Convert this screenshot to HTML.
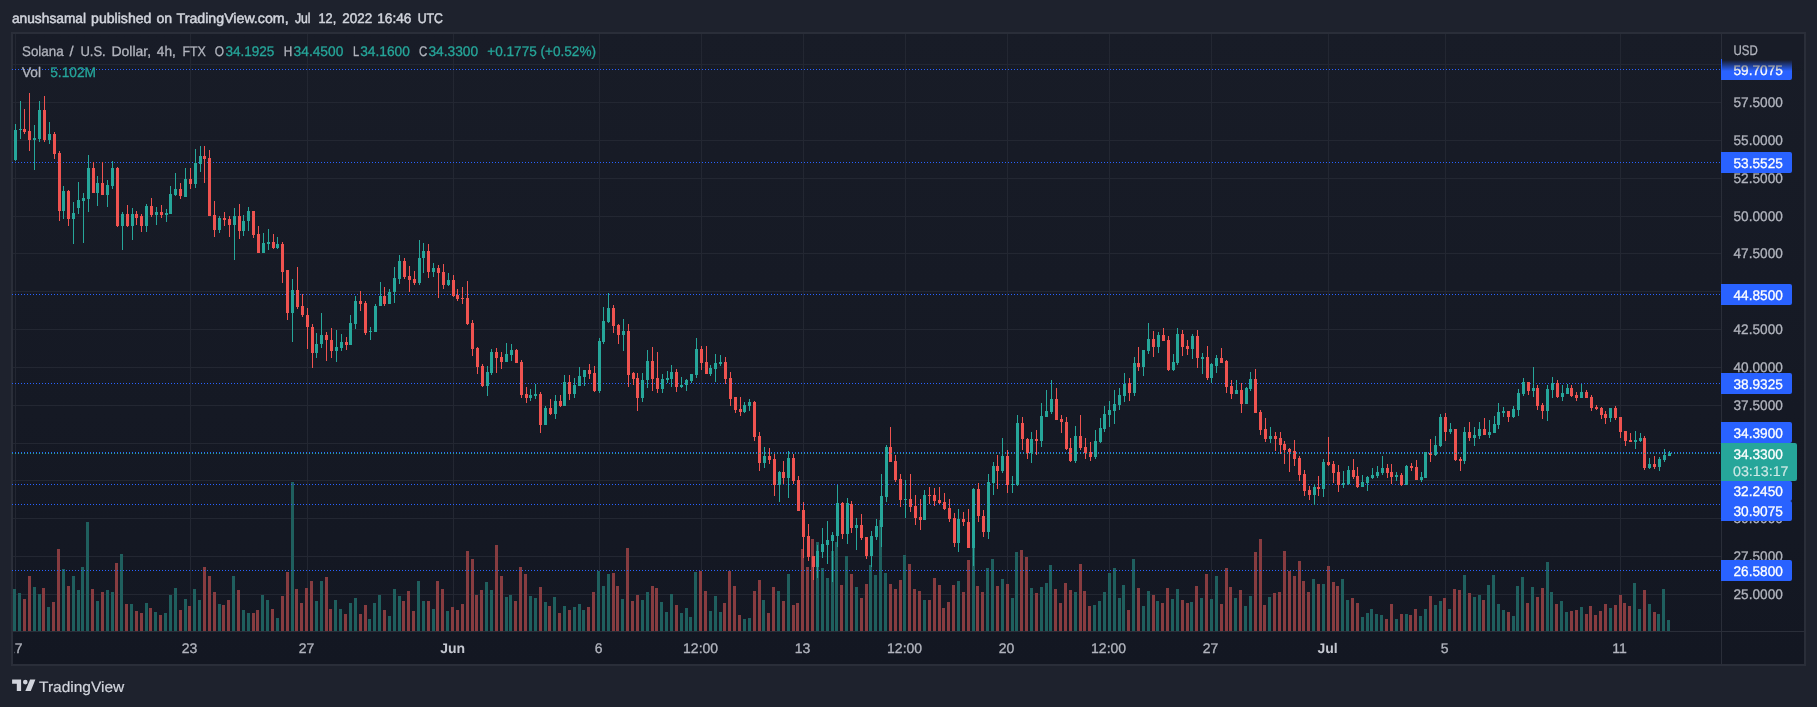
<!DOCTYPE html>
<html><head><meta charset="utf-8"><title>SOLUSD chart</title>
<style>html,body{margin:0;padding:0;background:#1e222d;}body{width:1817px;height:707px;overflow:hidden;font-family:"Liberation Sans",sans-serif;}svg{display:block}</style>
</head><body>
<svg width="1817" height="707" viewBox="0 0 1817 707" font-family="Liberation Sans, sans-serif" shape-rendering="crispEdges">
<defs>
<linearGradient id="bg" x1="0" y1="0" x2="0" y2="1"><stop offset="0" stop-color="#181c27"/><stop offset="1" stop-color="#131722"/></linearGradient>
<linearGradient id="fade" x1="0" y1="0" x2="0" y2="1"><stop offset="0" stop-color="#181c27" stop-opacity="1"/><stop offset="1" stop-color="#181c27" stop-opacity="0"/></linearGradient>
<filter id="gs" x="0" y="0" width="100%" height="100%" filterUnits="userSpaceOnUse"><feOffset dx="0" dy="0"/></filter>
<clipPath id="tclip"><rect x="14.6" y="632" width="1800" height="32"/></clipPath>
</defs>
<rect width="1817" height="707" fill="#1e222d"/>
<rect x="11" y="32" width="1795" height="634" fill="url(#bg)"/>
<path d="M11 32H1806V666H11z M13 34V664H1804V34z" fill="#2a2e39" fill-rule="evenodd"/>
<rect x="13" y="64" width="1708" height="1" fill="#232732"/>
<rect x="13" y="102" width="1708" height="1" fill="#232732"/>
<rect x="13" y="140" width="1708" height="1" fill="#232732"/>
<rect x="13" y="178" width="1708" height="1" fill="#232732"/>
<rect x="13" y="216" width="1708" height="1" fill="#232732"/>
<rect x="13" y="253" width="1708" height="1" fill="#232732"/>
<rect x="13" y="291" width="1708" height="1" fill="#232732"/>
<rect x="13" y="329" width="1708" height="1" fill="#232732"/>
<rect x="13" y="367" width="1708" height="1" fill="#232732"/>
<rect x="13" y="405" width="1708" height="1" fill="#232732"/>
<rect x="13" y="443" width="1708" height="1" fill="#232732"/>
<rect x="13" y="480" width="1708" height="1" fill="#232732"/>
<rect x="13" y="518" width="1708" height="1" fill="#232732"/>
<rect x="13" y="556" width="1708" height="1" fill="#232732"/>
<rect x="13" y="594" width="1708" height="1" fill="#232732"/>
<rect x="15" y="34" width="1" height="597" fill="#232732"/>
<rect x="190" y="34" width="1" height="597" fill="#232732"/>
<rect x="307" y="34" width="1" height="597" fill="#232732"/>
<rect x="453" y="34" width="1" height="597" fill="#232732"/>
<rect x="599" y="34" width="1" height="597" fill="#232732"/>
<rect x="701" y="34" width="1" height="597" fill="#232732"/>
<rect x="803" y="34" width="1" height="597" fill="#232732"/>
<rect x="905" y="34" width="1" height="597" fill="#232732"/>
<rect x="1007" y="34" width="1" height="597" fill="#232732"/>
<rect x="1109" y="34" width="1" height="597" fill="#232732"/>
<rect x="1211" y="34" width="1" height="597" fill="#232732"/>
<rect x="1328" y="34" width="1" height="597" fill="#232732"/>
<rect x="1445" y="34" width="1" height="597" fill="#232732"/>
<rect x="1620" y="34" width="1" height="597" fill="#232732"/>
<rect x="13" y="589" width="3" height="42" fill="#1f5f5e"/>
<rect x="18" y="593" width="3" height="38" fill="#1f5f5e"/>
<rect x="23" y="599" width="3" height="32" fill="#873c40"/>
<rect x="28" y="576" width="3" height="55" fill="#873c40"/>
<rect x="33" y="587" width="3" height="44" fill="#1f5f5e"/>
<rect x="38" y="594" width="3" height="37" fill="#1f5f5e"/>
<rect x="42" y="588" width="3" height="43" fill="#873c40"/>
<rect x="47" y="607" width="3" height="24" fill="#1f5f5e"/>
<rect x="52" y="602" width="3" height="29" fill="#873c40"/>
<rect x="57" y="549" width="3" height="82" fill="#873c40"/>
<rect x="62" y="569" width="3" height="62" fill="#1f5f5e"/>
<rect x="67" y="586" width="3" height="45" fill="#873c40"/>
<rect x="72" y="576" width="3" height="55" fill="#1f5f5e"/>
<rect x="77" y="590" width="3" height="41" fill="#1f5f5e"/>
<rect x="81" y="567" width="3" height="64" fill="#1f5f5e"/>
<rect x="86" y="522" width="3" height="109" fill="#1f5f5e"/>
<rect x="91" y="589" width="3" height="42" fill="#873c40"/>
<rect x="96" y="601" width="3" height="30" fill="#1f5f5e"/>
<rect x="101" y="592" width="3" height="39" fill="#873c40"/>
<rect x="106" y="590" width="3" height="41" fill="#1f5f5e"/>
<rect x="111" y="592" width="3" height="39" fill="#1f5f5e"/>
<rect x="115" y="563" width="3" height="68" fill="#873c40"/>
<rect x="120" y="554" width="3" height="77" fill="#1f5f5e"/>
<rect x="125" y="604" width="3" height="27" fill="#873c40"/>
<rect x="130" y="604" width="3" height="27" fill="#1f5f5e"/>
<rect x="135" y="611" width="3" height="20" fill="#873c40"/>
<rect x="140" y="613" width="3" height="18" fill="#873c40"/>
<rect x="145" y="603" width="3" height="28" fill="#1f5f5e"/>
<rect x="149" y="608" width="3" height="23" fill="#873c40"/>
<rect x="154" y="612" width="3" height="19" fill="#1f5f5e"/>
<rect x="159" y="615" width="3" height="16" fill="#873c40"/>
<rect x="164" y="613" width="3" height="18" fill="#1f5f5e"/>
<rect x="169" y="595" width="3" height="36" fill="#1f5f5e"/>
<rect x="174" y="588" width="3" height="43" fill="#1f5f5e"/>
<rect x="179" y="610" width="3" height="21" fill="#873c40"/>
<rect x="184" y="599" width="3" height="32" fill="#1f5f5e"/>
<rect x="188" y="606" width="3" height="25" fill="#873c40"/>
<rect x="193" y="589" width="3" height="42" fill="#1f5f5e"/>
<rect x="198" y="600" width="3" height="31" fill="#1f5f5e"/>
<rect x="203" y="567" width="3" height="64" fill="#873c40"/>
<rect x="208" y="576" width="3" height="55" fill="#873c40"/>
<rect x="213" y="592" width="3" height="39" fill="#873c40"/>
<rect x="218" y="604" width="3" height="27" fill="#1f5f5e"/>
<rect x="222" y="605" width="3" height="26" fill="#873c40"/>
<rect x="227" y="600" width="3" height="31" fill="#873c40"/>
<rect x="232" y="576" width="3" height="55" fill="#1f5f5e"/>
<rect x="237" y="590" width="3" height="41" fill="#873c40"/>
<rect x="242" y="610" width="3" height="21" fill="#1f5f5e"/>
<rect x="247" y="613" width="3" height="18" fill="#1f5f5e"/>
<rect x="252" y="613" width="3" height="18" fill="#873c40"/>
<rect x="256" y="610" width="3" height="21" fill="#873c40"/>
<rect x="261" y="595" width="3" height="36" fill="#1f5f5e"/>
<rect x="266" y="600" width="3" height="31" fill="#1f5f5e"/>
<rect x="271" y="609" width="3" height="22" fill="#873c40"/>
<rect x="276" y="618" width="3" height="13" fill="#1f5f5e"/>
<rect x="281" y="596" width="3" height="35" fill="#873c40"/>
<rect x="286" y="572" width="3" height="59" fill="#873c40"/>
<rect x="291" y="482" width="3" height="149" fill="#1f5f5e"/>
<rect x="295" y="589" width="3" height="42" fill="#873c40"/>
<rect x="300" y="603" width="3" height="28" fill="#873c40"/>
<rect x="305" y="588" width="3" height="43" fill="#873c40"/>
<rect x="310" y="581" width="3" height="50" fill="#873c40"/>
<rect x="315" y="601" width="3" height="30" fill="#1f5f5e"/>
<rect x="320" y="581" width="3" height="50" fill="#1f5f5e"/>
<rect x="325" y="577" width="3" height="54" fill="#873c40"/>
<rect x="329" y="609" width="3" height="22" fill="#873c40"/>
<rect x="334" y="600" width="3" height="31" fill="#1f5f5e"/>
<rect x="339" y="609" width="3" height="22" fill="#1f5f5e"/>
<rect x="344" y="614" width="3" height="17" fill="#873c40"/>
<rect x="349" y="603" width="3" height="28" fill="#1f5f5e"/>
<rect x="354" y="598" width="3" height="33" fill="#1f5f5e"/>
<rect x="359" y="614" width="3" height="17" fill="#873c40"/>
<rect x="364" y="605" width="3" height="26" fill="#873c40"/>
<rect x="368" y="619" width="3" height="12" fill="#1f5f5e"/>
<rect x="373" y="603" width="3" height="28" fill="#1f5f5e"/>
<rect x="378" y="595" width="3" height="36" fill="#1f5f5e"/>
<rect x="383" y="610" width="3" height="21" fill="#873c40"/>
<rect x="388" y="616" width="3" height="15" fill="#1f5f5e"/>
<rect x="393" y="589" width="3" height="42" fill="#1f5f5e"/>
<rect x="398" y="596" width="3" height="35" fill="#1f5f5e"/>
<rect x="402" y="601" width="3" height="30" fill="#873c40"/>
<rect x="407" y="591" width="3" height="40" fill="#873c40"/>
<rect x="412" y="611" width="3" height="20" fill="#873c40"/>
<rect x="417" y="581" width="3" height="50" fill="#1f5f5e"/>
<rect x="422" y="601" width="3" height="30" fill="#1f5f5e"/>
<rect x="427" y="601" width="3" height="30" fill="#873c40"/>
<rect x="432" y="609" width="3" height="22" fill="#1f5f5e"/>
<rect x="436" y="581" width="3" height="50" fill="#873c40"/>
<rect x="441" y="589" width="3" height="42" fill="#873c40"/>
<rect x="446" y="611" width="3" height="20" fill="#1f5f5e"/>
<rect x="451" y="607" width="3" height="24" fill="#873c40"/>
<rect x="456" y="610" width="3" height="21" fill="#873c40"/>
<rect x="461" y="604" width="3" height="27" fill="#873c40"/>
<rect x="466" y="551" width="3" height="80" fill="#873c40"/>
<rect x="471" y="559" width="3" height="72" fill="#873c40"/>
<rect x="475" y="595" width="3" height="36" fill="#873c40"/>
<rect x="480" y="590" width="3" height="41" fill="#873c40"/>
<rect x="485" y="582" width="3" height="49" fill="#1f5f5e"/>
<rect x="490" y="590" width="3" height="41" fill="#1f5f5e"/>
<rect x="495" y="545" width="3" height="86" fill="#873c40"/>
<rect x="500" y="576" width="3" height="55" fill="#873c40"/>
<rect x="505" y="597" width="3" height="34" fill="#1f5f5e"/>
<rect x="509" y="595" width="3" height="36" fill="#1f5f5e"/>
<rect x="514" y="601" width="3" height="30" fill="#873c40"/>
<rect x="519" y="567" width="3" height="64" fill="#873c40"/>
<rect x="524" y="574" width="3" height="57" fill="#873c40"/>
<rect x="529" y="596" width="3" height="35" fill="#1f5f5e"/>
<rect x="534" y="598" width="3" height="33" fill="#1f5f5e"/>
<rect x="539" y="587" width="3" height="44" fill="#873c40"/>
<rect x="544" y="602" width="3" height="29" fill="#1f5f5e"/>
<rect x="548" y="606" width="3" height="25" fill="#873c40"/>
<rect x="553" y="597" width="3" height="34" fill="#1f5f5e"/>
<rect x="558" y="613" width="3" height="18" fill="#873c40"/>
<rect x="563" y="606" width="3" height="25" fill="#1f5f5e"/>
<rect x="568" y="610" width="3" height="21" fill="#873c40"/>
<rect x="573" y="607" width="3" height="24" fill="#1f5f5e"/>
<rect x="578" y="604" width="3" height="27" fill="#1f5f5e"/>
<rect x="582" y="610" width="3" height="21" fill="#1f5f5e"/>
<rect x="587" y="607" width="3" height="24" fill="#873c40"/>
<rect x="592" y="592" width="3" height="39" fill="#873c40"/>
<rect x="597" y="571" width="3" height="60" fill="#1f5f5e"/>
<rect x="602" y="586" width="3" height="45" fill="#1f5f5e"/>
<rect x="607" y="574" width="3" height="57" fill="#1f5f5e"/>
<rect x="612" y="573" width="3" height="58" fill="#873c40"/>
<rect x="616" y="586" width="3" height="45" fill="#873c40"/>
<rect x="621" y="599" width="3" height="32" fill="#1f5f5e"/>
<rect x="626" y="548" width="3" height="83" fill="#873c40"/>
<rect x="631" y="601" width="3" height="30" fill="#873c40"/>
<rect x="636" y="595" width="3" height="36" fill="#873c40"/>
<rect x="641" y="600" width="3" height="31" fill="#1f5f5e"/>
<rect x="646" y="592" width="3" height="39" fill="#1f5f5e"/>
<rect x="651" y="586" width="3" height="45" fill="#873c40"/>
<rect x="655" y="588" width="3" height="43" fill="#873c40"/>
<rect x="660" y="602" width="3" height="29" fill="#1f5f5e"/>
<rect x="665" y="612" width="3" height="19" fill="#1f5f5e"/>
<rect x="670" y="594" width="3" height="37" fill="#1f5f5e"/>
<rect x="675" y="605" width="3" height="26" fill="#873c40"/>
<rect x="680" y="613" width="3" height="18" fill="#1f5f5e"/>
<rect x="685" y="608" width="3" height="23" fill="#1f5f5e"/>
<rect x="689" y="617" width="3" height="14" fill="#1f5f5e"/>
<rect x="694" y="572" width="3" height="59" fill="#1f5f5e"/>
<rect x="699" y="571" width="3" height="60" fill="#873c40"/>
<rect x="704" y="591" width="3" height="40" fill="#873c40"/>
<rect x="709" y="611" width="3" height="20" fill="#1f5f5e"/>
<rect x="714" y="596" width="3" height="35" fill="#1f5f5e"/>
<rect x="719" y="612" width="3" height="19" fill="#1f5f5e"/>
<rect x="723" y="603" width="3" height="28" fill="#873c40"/>
<rect x="728" y="571" width="3" height="60" fill="#873c40"/>
<rect x="733" y="586" width="3" height="45" fill="#873c40"/>
<rect x="738" y="615" width="3" height="16" fill="#873c40"/>
<rect x="743" y="619" width="3" height="12" fill="#1f5f5e"/>
<rect x="748" y="618" width="3" height="13" fill="#1f5f5e"/>
<rect x="753" y="591" width="3" height="40" fill="#873c40"/>
<rect x="758" y="580" width="3" height="51" fill="#873c40"/>
<rect x="762" y="600" width="3" height="31" fill="#1f5f5e"/>
<rect x="767" y="613" width="3" height="18" fill="#873c40"/>
<rect x="772" y="587" width="3" height="44" fill="#873c40"/>
<rect x="777" y="591" width="3" height="40" fill="#1f5f5e"/>
<rect x="782" y="601" width="3" height="30" fill="#873c40"/>
<rect x="787" y="574" width="3" height="57" fill="#1f5f5e"/>
<rect x="792" y="605" width="3" height="26" fill="#873c40"/>
<rect x="796" y="603" width="3" height="28" fill="#873c40"/>
<rect x="801" y="549" width="3" height="82" fill="#873c40"/>
<rect x="806" y="567" width="3" height="64" fill="#873c40"/>
<rect x="811" y="539" width="3" height="92" fill="#873c40"/>
<rect x="816" y="542" width="3" height="89" fill="#1f5f5e"/>
<rect x="821" y="568" width="3" height="63" fill="#1f5f5e"/>
<rect x="826" y="578" width="3" height="53" fill="#1f5f5e"/>
<rect x="831" y="551" width="3" height="80" fill="#1f5f5e"/>
<rect x="835" y="542" width="3" height="89" fill="#1f5f5e"/>
<rect x="840" y="585" width="3" height="46" fill="#873c40"/>
<rect x="845" y="556" width="3" height="75" fill="#1f5f5e"/>
<rect x="850" y="574" width="3" height="57" fill="#873c40"/>
<rect x="855" y="587" width="3" height="44" fill="#1f5f5e"/>
<rect x="860" y="598" width="3" height="33" fill="#873c40"/>
<rect x="865" y="584" width="3" height="47" fill="#873c40"/>
<rect x="869" y="565" width="3" height="66" fill="#1f5f5e"/>
<rect x="874" y="575" width="3" height="56" fill="#1f5f5e"/>
<rect x="879" y="520" width="3" height="111" fill="#1f5f5e"/>
<rect x="884" y="573" width="3" height="58" fill="#1f5f5e"/>
<rect x="889" y="584" width="3" height="47" fill="#873c40"/>
<rect x="894" y="589" width="3" height="42" fill="#873c40"/>
<rect x="899" y="580" width="3" height="51" fill="#873c40"/>
<rect x="903" y="555" width="3" height="76" fill="#1f5f5e"/>
<rect x="908" y="564" width="3" height="67" fill="#873c40"/>
<rect x="913" y="589" width="3" height="42" fill="#873c40"/>
<rect x="918" y="591" width="3" height="40" fill="#873c40"/>
<rect x="923" y="600" width="3" height="31" fill="#1f5f5e"/>
<rect x="928" y="600" width="3" height="31" fill="#873c40"/>
<rect x="933" y="578" width="3" height="53" fill="#873c40"/>
<rect x="938" y="585" width="3" height="46" fill="#873c40"/>
<rect x="942" y="608" width="3" height="23" fill="#873c40"/>
<rect x="947" y="602" width="3" height="29" fill="#873c40"/>
<rect x="952" y="585" width="3" height="46" fill="#873c40"/>
<rect x="957" y="581" width="3" height="50" fill="#1f5f5e"/>
<rect x="962" y="592" width="3" height="39" fill="#873c40"/>
<rect x="967" y="560" width="3" height="71" fill="#873c40"/>
<rect x="972" y="545" width="3" height="86" fill="#1f5f5e"/>
<rect x="976" y="586" width="3" height="45" fill="#873c40"/>
<rect x="981" y="592" width="3" height="39" fill="#873c40"/>
<rect x="986" y="568" width="3" height="63" fill="#1f5f5e"/>
<rect x="991" y="559" width="3" height="72" fill="#1f5f5e"/>
<rect x="996" y="586" width="3" height="45" fill="#873c40"/>
<rect x="1001" y="579" width="3" height="52" fill="#1f5f5e"/>
<rect x="1006" y="584" width="3" height="47" fill="#873c40"/>
<rect x="1011" y="598" width="3" height="33" fill="#1f5f5e"/>
<rect x="1015" y="552" width="3" height="79" fill="#1f5f5e"/>
<rect x="1020" y="550" width="3" height="81" fill="#873c40"/>
<rect x="1025" y="557" width="3" height="74" fill="#873c40"/>
<rect x="1030" y="588" width="3" height="43" fill="#1f5f5e"/>
<rect x="1035" y="593" width="3" height="38" fill="#873c40"/>
<rect x="1040" y="587" width="3" height="44" fill="#1f5f5e"/>
<rect x="1045" y="583" width="3" height="48" fill="#1f5f5e"/>
<rect x="1049" y="565" width="3" height="66" fill="#1f5f5e"/>
<rect x="1054" y="589" width="3" height="42" fill="#873c40"/>
<rect x="1059" y="603" width="3" height="28" fill="#873c40"/>
<rect x="1064" y="583" width="3" height="48" fill="#873c40"/>
<rect x="1069" y="590" width="3" height="41" fill="#873c40"/>
<rect x="1074" y="592" width="3" height="39" fill="#1f5f5e"/>
<rect x="1079" y="564" width="3" height="67" fill="#873c40"/>
<rect x="1083" y="591" width="3" height="40" fill="#873c40"/>
<rect x="1088" y="606" width="3" height="25" fill="#873c40"/>
<rect x="1093" y="605" width="3" height="26" fill="#1f5f5e"/>
<rect x="1098" y="601" width="3" height="30" fill="#1f5f5e"/>
<rect x="1103" y="592" width="3" height="39" fill="#1f5f5e"/>
<rect x="1108" y="573" width="3" height="58" fill="#1f5f5e"/>
<rect x="1113" y="568" width="3" height="63" fill="#1f5f5e"/>
<rect x="1118" y="598" width="3" height="33" fill="#1f5f5e"/>
<rect x="1122" y="585" width="3" height="46" fill="#1f5f5e"/>
<rect x="1127" y="610" width="3" height="21" fill="#873c40"/>
<rect x="1132" y="559" width="3" height="72" fill="#1f5f5e"/>
<rect x="1137" y="588" width="3" height="43" fill="#873c40"/>
<rect x="1142" y="606" width="3" height="25" fill="#1f5f5e"/>
<rect x="1147" y="591" width="3" height="40" fill="#1f5f5e"/>
<rect x="1152" y="595" width="3" height="36" fill="#873c40"/>
<rect x="1156" y="601" width="3" height="30" fill="#1f5f5e"/>
<rect x="1161" y="603" width="3" height="28" fill="#873c40"/>
<rect x="1166" y="588" width="3" height="43" fill="#873c40"/>
<rect x="1171" y="599" width="3" height="32" fill="#1f5f5e"/>
<rect x="1176" y="589" width="3" height="42" fill="#1f5f5e"/>
<rect x="1181" y="600" width="3" height="31" fill="#873c40"/>
<rect x="1186" y="603" width="3" height="28" fill="#873c40"/>
<rect x="1190" y="602" width="3" height="29" fill="#1f5f5e"/>
<rect x="1195" y="586" width="3" height="45" fill="#873c40"/>
<rect x="1200" y="598" width="3" height="33" fill="#1f5f5e"/>
<rect x="1205" y="574" width="3" height="57" fill="#873c40"/>
<rect x="1210" y="599" width="3" height="32" fill="#1f5f5e"/>
<rect x="1215" y="576" width="3" height="55" fill="#1f5f5e"/>
<rect x="1220" y="604" width="3" height="27" fill="#873c40"/>
<rect x="1225" y="568" width="3" height="63" fill="#873c40"/>
<rect x="1229" y="587" width="3" height="44" fill="#873c40"/>
<rect x="1234" y="598" width="3" height="33" fill="#1f5f5e"/>
<rect x="1239" y="590" width="3" height="41" fill="#873c40"/>
<rect x="1244" y="606" width="3" height="25" fill="#1f5f5e"/>
<rect x="1249" y="596" width="3" height="35" fill="#1f5f5e"/>
<rect x="1254" y="552" width="3" height="79" fill="#873c40"/>
<rect x="1259" y="539" width="3" height="92" fill="#873c40"/>
<rect x="1263" y="605" width="3" height="26" fill="#873c40"/>
<rect x="1268" y="597" width="3" height="34" fill="#1f5f5e"/>
<rect x="1273" y="593" width="3" height="38" fill="#873c40"/>
<rect x="1278" y="592" width="3" height="39" fill="#873c40"/>
<rect x="1283" y="551" width="3" height="80" fill="#873c40"/>
<rect x="1288" y="571" width="3" height="60" fill="#873c40"/>
<rect x="1293" y="576" width="3" height="55" fill="#873c40"/>
<rect x="1298" y="561" width="3" height="70" fill="#873c40"/>
<rect x="1302" y="581" width="3" height="50" fill="#873c40"/>
<rect x="1307" y="592" width="3" height="39" fill="#873c40"/>
<rect x="1312" y="579" width="3" height="52" fill="#1f5f5e"/>
<rect x="1317" y="584" width="3" height="47" fill="#873c40"/>
<rect x="1322" y="584" width="3" height="47" fill="#1f5f5e"/>
<rect x="1327" y="566" width="3" height="65" fill="#873c40"/>
<rect x="1332" y="582" width="3" height="49" fill="#873c40"/>
<rect x="1336" y="586" width="3" height="45" fill="#873c40"/>
<rect x="1341" y="579" width="3" height="52" fill="#1f5f5e"/>
<rect x="1346" y="600" width="3" height="31" fill="#1f5f5e"/>
<rect x="1351" y="598" width="3" height="33" fill="#873c40"/>
<rect x="1356" y="603" width="3" height="28" fill="#873c40"/>
<rect x="1361" y="617" width="3" height="14" fill="#1f5f5e"/>
<rect x="1366" y="613" width="3" height="18" fill="#1f5f5e"/>
<rect x="1370" y="609" width="3" height="22" fill="#1f5f5e"/>
<rect x="1375" y="614" width="3" height="17" fill="#1f5f5e"/>
<rect x="1380" y="615" width="3" height="16" fill="#1f5f5e"/>
<rect x="1385" y="619" width="3" height="12" fill="#873c40"/>
<rect x="1390" y="604" width="3" height="27" fill="#873c40"/>
<rect x="1395" y="619" width="3" height="12" fill="#1f5f5e"/>
<rect x="1400" y="614" width="3" height="17" fill="#873c40"/>
<rect x="1405" y="614" width="3" height="17" fill="#1f5f5e"/>
<rect x="1409" y="615" width="3" height="16" fill="#873c40"/>
<rect x="1414" y="609" width="3" height="22" fill="#873c40"/>
<rect x="1419" y="616" width="3" height="15" fill="#1f5f5e"/>
<rect x="1424" y="609" width="3" height="22" fill="#1f5f5e"/>
<rect x="1429" y="596" width="3" height="35" fill="#873c40"/>
<rect x="1434" y="605" width="3" height="26" fill="#1f5f5e"/>
<rect x="1439" y="601" width="3" height="30" fill="#1f5f5e"/>
<rect x="1443" y="598" width="3" height="33" fill="#873c40"/>
<rect x="1448" y="609" width="3" height="22" fill="#1f5f5e"/>
<rect x="1453" y="589" width="3" height="42" fill="#873c40"/>
<rect x="1458" y="590" width="3" height="41" fill="#873c40"/>
<rect x="1463" y="575" width="3" height="56" fill="#1f5f5e"/>
<rect x="1468" y="593" width="3" height="38" fill="#873c40"/>
<rect x="1473" y="597" width="3" height="34" fill="#1f5f5e"/>
<rect x="1478" y="595" width="3" height="36" fill="#1f5f5e"/>
<rect x="1482" y="600" width="3" height="31" fill="#873c40"/>
<rect x="1487" y="585" width="3" height="46" fill="#1f5f5e"/>
<rect x="1492" y="575" width="3" height="56" fill="#1f5f5e"/>
<rect x="1497" y="604" width="3" height="27" fill="#1f5f5e"/>
<rect x="1502" y="610" width="3" height="21" fill="#1f5f5e"/>
<rect x="1507" y="612" width="3" height="19" fill="#873c40"/>
<rect x="1512" y="616" width="3" height="15" fill="#1f5f5e"/>
<rect x="1516" y="586" width="3" height="45" fill="#1f5f5e"/>
<rect x="1521" y="577" width="3" height="54" fill="#1f5f5e"/>
<rect x="1526" y="603" width="3" height="28" fill="#873c40"/>
<rect x="1531" y="587" width="3" height="44" fill="#1f5f5e"/>
<rect x="1536" y="597" width="3" height="34" fill="#873c40"/>
<rect x="1541" y="588" width="3" height="43" fill="#873c40"/>
<rect x="1546" y="562" width="3" height="69" fill="#1f5f5e"/>
<rect x="1550" y="592" width="3" height="39" fill="#1f5f5e"/>
<rect x="1555" y="604" width="3" height="27" fill="#873c40"/>
<rect x="1560" y="601" width="3" height="30" fill="#1f5f5e"/>
<rect x="1565" y="612" width="3" height="19" fill="#1f5f5e"/>
<rect x="1570" y="611" width="3" height="20" fill="#873c40"/>
<rect x="1575" y="610" width="3" height="21" fill="#873c40"/>
<rect x="1580" y="607" width="3" height="24" fill="#1f5f5e"/>
<rect x="1585" y="614" width="3" height="17" fill="#873c40"/>
<rect x="1589" y="606" width="3" height="25" fill="#873c40"/>
<rect x="1594" y="615" width="3" height="16" fill="#873c40"/>
<rect x="1599" y="611" width="3" height="20" fill="#873c40"/>
<rect x="1604" y="604" width="3" height="27" fill="#873c40"/>
<rect x="1609" y="608" width="3" height="23" fill="#1f5f5e"/>
<rect x="1614" y="605" width="3" height="26" fill="#873c40"/>
<rect x="1619" y="595" width="3" height="36" fill="#873c40"/>
<rect x="1623" y="603" width="3" height="28" fill="#873c40"/>
<rect x="1628" y="606" width="3" height="25" fill="#873c40"/>
<rect x="1633" y="583" width="3" height="48" fill="#1f5f5e"/>
<rect x="1638" y="609" width="3" height="22" fill="#1f5f5e"/>
<rect x="1643" y="590" width="3" height="41" fill="#873c40"/>
<rect x="1648" y="604" width="3" height="27" fill="#1f5f5e"/>
<rect x="1653" y="612" width="3" height="19" fill="#873c40"/>
<rect x="1657" y="614" width="3" height="17" fill="#1f5f5e"/>
<rect x="1662" y="589" width="3" height="42" fill="#1f5f5e"/>
<rect x="1667" y="620" width="3" height="11" fill="#1f5f5e"/>
<line x1="12" y1="69.5" x2="1721" y2="69.5" stroke="#2962ff" stroke-width="1" stroke-dasharray="1 2"/>
<line x1="12" y1="162.5" x2="1721" y2="162.5" stroke="#2962ff" stroke-width="1" stroke-dasharray="1 2"/>
<line x1="12" y1="294.5" x2="1721" y2="294.5" stroke="#2962ff" stroke-width="1" stroke-dasharray="1 2"/>
<line x1="12" y1="383.5" x2="1721" y2="383.5" stroke="#2962ff" stroke-width="1" stroke-dasharray="1 2"/>
<line x1="12" y1="452.5" x2="1721" y2="452.5" stroke="#2962ff" stroke-width="1" stroke-dasharray="1 2"/>
<line x1="12" y1="484.5" x2="1721" y2="484.5" stroke="#2962ff" stroke-width="1" stroke-dasharray="1 2"/>
<line x1="12" y1="504.5" x2="1721" y2="504.5" stroke="#2962ff" stroke-width="1" stroke-dasharray="1 2"/>
<line x1="12" y1="570.5" x2="1721" y2="570.5" stroke="#2962ff" stroke-width="1" stroke-dasharray="1 2"/>
<rect x="15" y="124" width="1" height="37" fill="#26a69a"/>
<rect x="14" y="130" width="3" height="30" fill="#26a69a"/>
<rect x="20" y="101" width="1" height="38" fill="#26a69a"/>
<rect x="19" y="129" width="3" height="1" fill="#26a69a"/>
<rect x="24" y="109" width="1" height="25" fill="#ef5350"/>
<rect x="23" y="129" width="3" height="3" fill="#ef5350"/>
<rect x="29" y="93" width="1" height="58" fill="#ef5350"/>
<rect x="28" y="131" width="3" height="9" fill="#ef5350"/>
<rect x="34" y="125" width="1" height="45" fill="#26a69a"/>
<rect x="33" y="138" width="3" height="2" fill="#26a69a"/>
<rect x="39" y="101" width="1" height="41" fill="#26a69a"/>
<rect x="38" y="110" width="3" height="29" fill="#26a69a"/>
<rect x="44" y="96" width="1" height="46" fill="#ef5350"/>
<rect x="43" y="110" width="3" height="30" fill="#ef5350"/>
<rect x="49" y="122" width="1" height="22" fill="#26a69a"/>
<rect x="48" y="134" width="3" height="6" fill="#26a69a"/>
<rect x="54" y="132" width="1" height="27" fill="#ef5350"/>
<rect x="53" y="134" width="3" height="20" fill="#ef5350"/>
<rect x="59" y="151" width="1" height="70" fill="#ef5350"/>
<rect x="58" y="153" width="3" height="58" fill="#ef5350"/>
<rect x="63" y="186" width="1" height="33" fill="#26a69a"/>
<rect x="62" y="191" width="3" height="20" fill="#26a69a"/>
<rect x="68" y="190" width="1" height="36" fill="#ef5350"/>
<rect x="67" y="191" width="3" height="28" fill="#ef5350"/>
<rect x="73" y="202" width="1" height="42" fill="#26a69a"/>
<rect x="72" y="213" width="3" height="6" fill="#26a69a"/>
<rect x="78" y="182" width="1" height="32" fill="#26a69a"/>
<rect x="77" y="200" width="3" height="8" fill="#26a69a"/>
<rect x="83" y="193" width="1" height="50" fill="#26a69a"/>
<rect x="82" y="198" width="3" height="3" fill="#26a69a"/>
<rect x="88" y="155" width="1" height="57" fill="#26a69a"/>
<rect x="87" y="168" width="3" height="31" fill="#26a69a"/>
<rect x="93" y="162" width="1" height="31" fill="#ef5350"/>
<rect x="92" y="168" width="3" height="25" fill="#ef5350"/>
<rect x="97" y="176" width="1" height="30" fill="#26a69a"/>
<rect x="96" y="183" width="3" height="10" fill="#26a69a"/>
<rect x="102" y="162" width="1" height="33" fill="#ef5350"/>
<rect x="101" y="183" width="3" height="12" fill="#ef5350"/>
<rect x="107" y="180" width="1" height="27" fill="#26a69a"/>
<rect x="106" y="185" width="3" height="10" fill="#26a69a"/>
<rect x="112" y="161" width="1" height="28" fill="#26a69a"/>
<rect x="111" y="168" width="3" height="18" fill="#26a69a"/>
<rect x="117" y="167" width="1" height="60" fill="#ef5350"/>
<rect x="116" y="168" width="3" height="58" fill="#ef5350"/>
<rect x="122" y="212" width="1" height="38" fill="#26a69a"/>
<rect x="121" y="214" width="3" height="12" fill="#26a69a"/>
<rect x="127" y="205" width="1" height="22" fill="#ef5350"/>
<rect x="126" y="214" width="3" height="12" fill="#ef5350"/>
<rect x="132" y="208" width="1" height="32" fill="#26a69a"/>
<rect x="131" y="214" width="3" height="12" fill="#26a69a"/>
<rect x="136" y="211" width="1" height="14" fill="#ef5350"/>
<rect x="135" y="214" width="3" height="4" fill="#ef5350"/>
<rect x="141" y="214" width="1" height="18" fill="#ef5350"/>
<rect x="140" y="216" width="3" height="10" fill="#ef5350"/>
<rect x="146" y="204" width="1" height="28" fill="#26a69a"/>
<rect x="145" y="206" width="3" height="20" fill="#26a69a"/>
<rect x="151" y="198" width="1" height="19" fill="#ef5350"/>
<rect x="150" y="206" width="3" height="9" fill="#ef5350"/>
<rect x="156" y="207" width="1" height="18" fill="#26a69a"/>
<rect x="155" y="212" width="3" height="3" fill="#26a69a"/>
<rect x="161" y="205" width="1" height="13" fill="#ef5350"/>
<rect x="160" y="212" width="3" height="3" fill="#ef5350"/>
<rect x="166" y="209" width="1" height="13" fill="#26a69a"/>
<rect x="165" y="213" width="3" height="2" fill="#26a69a"/>
<rect x="170" y="186" width="1" height="28" fill="#26a69a"/>
<rect x="169" y="194" width="3" height="20" fill="#26a69a"/>
<rect x="175" y="173" width="1" height="23" fill="#26a69a"/>
<rect x="174" y="189" width="3" height="6" fill="#26a69a"/>
<rect x="180" y="183" width="1" height="16" fill="#ef5350"/>
<rect x="179" y="189" width="3" height="7" fill="#ef5350"/>
<rect x="185" y="168" width="1" height="29" fill="#26a69a"/>
<rect x="184" y="179" width="3" height="18" fill="#26a69a"/>
<rect x="190" y="168" width="1" height="21" fill="#ef5350"/>
<rect x="189" y="179" width="3" height="5" fill="#ef5350"/>
<rect x="195" y="149" width="1" height="39" fill="#26a69a"/>
<rect x="194" y="163" width="3" height="21" fill="#26a69a"/>
<rect x="200" y="146" width="1" height="26" fill="#26a69a"/>
<rect x="199" y="156" width="3" height="8" fill="#26a69a"/>
<rect x="204" y="146" width="1" height="37" fill="#ef5350"/>
<rect x="203" y="156" width="3" height="3" fill="#ef5350"/>
<rect x="209" y="150" width="1" height="66" fill="#ef5350"/>
<rect x="208" y="158" width="3" height="58" fill="#ef5350"/>
<rect x="214" y="201" width="1" height="36" fill="#ef5350"/>
<rect x="213" y="215" width="3" height="15" fill="#ef5350"/>
<rect x="219" y="216" width="1" height="17" fill="#26a69a"/>
<rect x="218" y="218" width="3" height="12" fill="#26a69a"/>
<rect x="224" y="212" width="1" height="14" fill="#ef5350"/>
<rect x="223" y="218" width="3" height="2" fill="#ef5350"/>
<rect x="229" y="216" width="1" height="21" fill="#ef5350"/>
<rect x="228" y="219" width="3" height="6" fill="#ef5350"/>
<rect x="234" y="208" width="1" height="52" fill="#26a69a"/>
<rect x="233" y="216" width="3" height="9" fill="#26a69a"/>
<rect x="239" y="204" width="1" height="35" fill="#ef5350"/>
<rect x="238" y="216" width="3" height="15" fill="#ef5350"/>
<rect x="243" y="215" width="1" height="21" fill="#26a69a"/>
<rect x="242" y="221" width="3" height="10" fill="#26a69a"/>
<rect x="248" y="207" width="1" height="24" fill="#26a69a"/>
<rect x="247" y="211" width="3" height="10" fill="#26a69a"/>
<rect x="253" y="211" width="1" height="27" fill="#ef5350"/>
<rect x="252" y="211" width="3" height="24" fill="#ef5350"/>
<rect x="258" y="226" width="1" height="27" fill="#ef5350"/>
<rect x="257" y="234" width="3" height="19" fill="#ef5350"/>
<rect x="263" y="233" width="1" height="20" fill="#26a69a"/>
<rect x="262" y="243" width="3" height="10" fill="#26a69a"/>
<rect x="268" y="229" width="1" height="21" fill="#26a69a"/>
<rect x="267" y="242" width="3" height="2" fill="#26a69a"/>
<rect x="273" y="234" width="1" height="15" fill="#ef5350"/>
<rect x="272" y="242" width="3" height="6" fill="#ef5350"/>
<rect x="277" y="237" width="1" height="12" fill="#26a69a"/>
<rect x="276" y="244" width="3" height="4" fill="#26a69a"/>
<rect x="282" y="242" width="1" height="41" fill="#ef5350"/>
<rect x="281" y="244" width="3" height="28" fill="#ef5350"/>
<rect x="287" y="270" width="1" height="50" fill="#ef5350"/>
<rect x="286" y="270" width="3" height="43" fill="#ef5350"/>
<rect x="292" y="279" width="1" height="63" fill="#26a69a"/>
<rect x="291" y="290" width="3" height="23" fill="#26a69a"/>
<rect x="297" y="267" width="1" height="42" fill="#ef5350"/>
<rect x="296" y="290" width="3" height="17" fill="#ef5350"/>
<rect x="302" y="294" width="1" height="23" fill="#ef5350"/>
<rect x="301" y="306" width="3" height="9" fill="#ef5350"/>
<rect x="307" y="308" width="1" height="41" fill="#ef5350"/>
<rect x="306" y="315" width="3" height="12" fill="#ef5350"/>
<rect x="312" y="324" width="1" height="44" fill="#ef5350"/>
<rect x="311" y="327" width="3" height="26" fill="#ef5350"/>
<rect x="316" y="333" width="1" height="25" fill="#26a69a"/>
<rect x="315" y="344" width="3" height="9" fill="#26a69a"/>
<rect x="321" y="313" width="1" height="35" fill="#26a69a"/>
<rect x="320" y="335" width="3" height="9" fill="#26a69a"/>
<rect x="326" y="332" width="1" height="29" fill="#ef5350"/>
<rect x="325" y="335" width="3" height="5" fill="#ef5350"/>
<rect x="331" y="328" width="1" height="30" fill="#ef5350"/>
<rect x="330" y="340" width="3" height="11" fill="#ef5350"/>
<rect x="336" y="330" width="1" height="32" fill="#26a69a"/>
<rect x="335" y="347" width="3" height="4" fill="#26a69a"/>
<rect x="341" y="334" width="1" height="17" fill="#26a69a"/>
<rect x="340" y="342" width="3" height="6" fill="#26a69a"/>
<rect x="346" y="337" width="1" height="13" fill="#ef5350"/>
<rect x="345" y="342" width="3" height="3" fill="#ef5350"/>
<rect x="350" y="315" width="1" height="30" fill="#26a69a"/>
<rect x="349" y="323" width="3" height="22" fill="#26a69a"/>
<rect x="355" y="296" width="1" height="33" fill="#26a69a"/>
<rect x="354" y="301" width="3" height="23" fill="#26a69a"/>
<rect x="360" y="291" width="1" height="20" fill="#ef5350"/>
<rect x="359" y="301" width="3" height="3" fill="#ef5350"/>
<rect x="365" y="301" width="1" height="34" fill="#ef5350"/>
<rect x="364" y="303" width="3" height="30" fill="#ef5350"/>
<rect x="370" y="327" width="1" height="13" fill="#26a69a"/>
<rect x="369" y="331" width="3" height="1" fill="#26a69a"/>
<rect x="375" y="304" width="1" height="28" fill="#26a69a"/>
<rect x="374" y="306" width="3" height="26" fill="#26a69a"/>
<rect x="380" y="282" width="1" height="24" fill="#26a69a"/>
<rect x="379" y="296" width="3" height="10" fill="#26a69a"/>
<rect x="384" y="287" width="1" height="19" fill="#ef5350"/>
<rect x="383" y="296" width="3" height="8" fill="#ef5350"/>
<rect x="389" y="289" width="1" height="15" fill="#26a69a"/>
<rect x="388" y="292" width="3" height="12" fill="#26a69a"/>
<rect x="394" y="267" width="1" height="36" fill="#26a69a"/>
<rect x="393" y="278" width="3" height="14" fill="#26a69a"/>
<rect x="399" y="255" width="1" height="29" fill="#26a69a"/>
<rect x="398" y="261" width="3" height="18" fill="#26a69a"/>
<rect x="404" y="258" width="1" height="21" fill="#ef5350"/>
<rect x="403" y="261" width="3" height="16" fill="#ef5350"/>
<rect x="409" y="266" width="1" height="26" fill="#ef5350"/>
<rect x="408" y="276" width="3" height="4" fill="#ef5350"/>
<rect x="414" y="271" width="1" height="14" fill="#ef5350"/>
<rect x="413" y="279" width="3" height="4" fill="#ef5350"/>
<rect x="419" y="240" width="1" height="45" fill="#26a69a"/>
<rect x="418" y="258" width="3" height="25" fill="#26a69a"/>
<rect x="423" y="243" width="1" height="30" fill="#26a69a"/>
<rect x="422" y="251" width="3" height="7" fill="#26a69a"/>
<rect x="428" y="244" width="1" height="34" fill="#ef5350"/>
<rect x="427" y="251" width="3" height="21" fill="#ef5350"/>
<rect x="433" y="263" width="1" height="14" fill="#26a69a"/>
<rect x="432" y="268" width="3" height="4" fill="#26a69a"/>
<rect x="438" y="265" width="1" height="33" fill="#ef5350"/>
<rect x="437" y="268" width="3" height="5" fill="#ef5350"/>
<rect x="443" y="264" width="1" height="25" fill="#ef5350"/>
<rect x="442" y="272" width="3" height="13" fill="#ef5350"/>
<rect x="448" y="273" width="1" height="13" fill="#26a69a"/>
<rect x="447" y="280" width="3" height="5" fill="#26a69a"/>
<rect x="453" y="275" width="1" height="22" fill="#ef5350"/>
<rect x="452" y="280" width="3" height="16" fill="#ef5350"/>
<rect x="457" y="289" width="1" height="12" fill="#ef5350"/>
<rect x="456" y="295" width="3" height="4" fill="#ef5350"/>
<rect x="462" y="287" width="1" height="17" fill="#ef5350"/>
<rect x="461" y="298" width="3" height="1" fill="#ef5350"/>
<rect x="467" y="281" width="1" height="44" fill="#ef5350"/>
<rect x="466" y="298" width="3" height="26" fill="#ef5350"/>
<rect x="472" y="320" width="1" height="36" fill="#ef5350"/>
<rect x="471" y="323" width="3" height="26" fill="#ef5350"/>
<rect x="477" y="347" width="1" height="27" fill="#ef5350"/>
<rect x="476" y="348" width="3" height="19" fill="#ef5350"/>
<rect x="482" y="364" width="1" height="23" fill="#ef5350"/>
<rect x="481" y="366" width="3" height="20" fill="#ef5350"/>
<rect x="487" y="366" width="1" height="30" fill="#26a69a"/>
<rect x="486" y="372" width="3" height="14" fill="#26a69a"/>
<rect x="491" y="349" width="1" height="26" fill="#26a69a"/>
<rect x="490" y="352" width="3" height="21" fill="#26a69a"/>
<rect x="496" y="348" width="1" height="25" fill="#ef5350"/>
<rect x="495" y="352" width="3" height="6" fill="#ef5350"/>
<rect x="501" y="352" width="1" height="17" fill="#ef5350"/>
<rect x="500" y="357" width="3" height="5" fill="#ef5350"/>
<rect x="506" y="343" width="1" height="19" fill="#26a69a"/>
<rect x="505" y="354" width="3" height="8" fill="#26a69a"/>
<rect x="511" y="344" width="1" height="17" fill="#26a69a"/>
<rect x="510" y="350" width="3" height="5" fill="#26a69a"/>
<rect x="516" y="349" width="1" height="14" fill="#ef5350"/>
<rect x="515" y="350" width="3" height="13" fill="#ef5350"/>
<rect x="521" y="360" width="1" height="38" fill="#ef5350"/>
<rect x="520" y="362" width="3" height="33" fill="#ef5350"/>
<rect x="526" y="387" width="1" height="16" fill="#ef5350"/>
<rect x="525" y="394" width="3" height="4" fill="#ef5350"/>
<rect x="530" y="389" width="1" height="12" fill="#26a69a"/>
<rect x="529" y="395" width="3" height="3" fill="#26a69a"/>
<rect x="535" y="384" width="1" height="15" fill="#26a69a"/>
<rect x="534" y="394" width="3" height="2" fill="#26a69a"/>
<rect x="540" y="392" width="1" height="41" fill="#ef5350"/>
<rect x="539" y="394" width="3" height="31" fill="#ef5350"/>
<rect x="545" y="406" width="1" height="19" fill="#26a69a"/>
<rect x="544" y="408" width="3" height="17" fill="#26a69a"/>
<rect x="550" y="399" width="1" height="16" fill="#ef5350"/>
<rect x="549" y="408" width="3" height="6" fill="#ef5350"/>
<rect x="555" y="395" width="1" height="24" fill="#26a69a"/>
<rect x="554" y="401" width="3" height="13" fill="#26a69a"/>
<rect x="560" y="395" width="1" height="12" fill="#ef5350"/>
<rect x="559" y="401" width="3" height="5" fill="#ef5350"/>
<rect x="564" y="375" width="1" height="31" fill="#26a69a"/>
<rect x="563" y="382" width="3" height="24" fill="#26a69a"/>
<rect x="569" y="375" width="1" height="25" fill="#ef5350"/>
<rect x="568" y="382" width="3" height="12" fill="#ef5350"/>
<rect x="574" y="378" width="1" height="20" fill="#26a69a"/>
<rect x="573" y="385" width="3" height="9" fill="#26a69a"/>
<rect x="579" y="367" width="1" height="19" fill="#26a69a"/>
<rect x="578" y="376" width="3" height="10" fill="#26a69a"/>
<rect x="584" y="370" width="1" height="16" fill="#26a69a"/>
<rect x="583" y="370" width="3" height="7" fill="#26a69a"/>
<rect x="589" y="364" width="1" height="15" fill="#ef5350"/>
<rect x="588" y="370" width="3" height="4" fill="#ef5350"/>
<rect x="594" y="366" width="1" height="26" fill="#ef5350"/>
<rect x="593" y="373" width="3" height="18" fill="#ef5350"/>
<rect x="599" y="338" width="1" height="55" fill="#26a69a"/>
<rect x="598" y="341" width="3" height="50" fill="#26a69a"/>
<rect x="603" y="307" width="1" height="37" fill="#26a69a"/>
<rect x="602" y="321" width="3" height="21" fill="#26a69a"/>
<rect x="608" y="293" width="1" height="30" fill="#26a69a"/>
<rect x="607" y="308" width="3" height="14" fill="#26a69a"/>
<rect x="613" y="305" width="1" height="28" fill="#ef5350"/>
<rect x="612" y="308" width="3" height="18" fill="#ef5350"/>
<rect x="618" y="324" width="1" height="20" fill="#ef5350"/>
<rect x="617" y="325" width="3" height="10" fill="#ef5350"/>
<rect x="623" y="319" width="1" height="32" fill="#26a69a"/>
<rect x="622" y="331" width="3" height="4" fill="#26a69a"/>
<rect x="628" y="324" width="1" height="63" fill="#ef5350"/>
<rect x="627" y="331" width="3" height="44" fill="#ef5350"/>
<rect x="633" y="372" width="1" height="13" fill="#ef5350"/>
<rect x="632" y="373" width="3" height="6" fill="#ef5350"/>
<rect x="637" y="373" width="1" height="38" fill="#ef5350"/>
<rect x="636" y="378" width="3" height="20" fill="#ef5350"/>
<rect x="642" y="373" width="1" height="29" fill="#26a69a"/>
<rect x="641" y="380" width="3" height="18" fill="#26a69a"/>
<rect x="647" y="350" width="1" height="38" fill="#26a69a"/>
<rect x="646" y="361" width="3" height="19" fill="#26a69a"/>
<rect x="652" y="347" width="1" height="44" fill="#ef5350"/>
<rect x="651" y="361" width="3" height="18" fill="#ef5350"/>
<rect x="657" y="352" width="1" height="41" fill="#ef5350"/>
<rect x="656" y="378" width="3" height="11" fill="#ef5350"/>
<rect x="662" y="374" width="1" height="19" fill="#26a69a"/>
<rect x="661" y="379" width="3" height="10" fill="#26a69a"/>
<rect x="667" y="371" width="1" height="12" fill="#26a69a"/>
<rect x="666" y="378" width="3" height="2" fill="#26a69a"/>
<rect x="671" y="365" width="1" height="22" fill="#26a69a"/>
<rect x="670" y="372" width="3" height="7" fill="#26a69a"/>
<rect x="676" y="369" width="1" height="23" fill="#ef5350"/>
<rect x="675" y="372" width="3" height="15" fill="#ef5350"/>
<rect x="681" y="377" width="1" height="11" fill="#26a69a"/>
<rect x="680" y="385" width="3" height="2" fill="#26a69a"/>
<rect x="686" y="379" width="1" height="12" fill="#26a69a"/>
<rect x="685" y="380" width="3" height="5" fill="#26a69a"/>
<rect x="691" y="374" width="1" height="9" fill="#26a69a"/>
<rect x="690" y="374" width="3" height="7" fill="#26a69a"/>
<rect x="696" y="338" width="1" height="40" fill="#26a69a"/>
<rect x="695" y="349" width="3" height="26" fill="#26a69a"/>
<rect x="701" y="346" width="1" height="24" fill="#ef5350"/>
<rect x="700" y="349" width="3" height="14" fill="#ef5350"/>
<rect x="706" y="346" width="1" height="28" fill="#ef5350"/>
<rect x="705" y="362" width="3" height="12" fill="#ef5350"/>
<rect x="710" y="365" width="1" height="11" fill="#26a69a"/>
<rect x="709" y="368" width="3" height="6" fill="#26a69a"/>
<rect x="715" y="354" width="1" height="28" fill="#26a69a"/>
<rect x="714" y="363" width="3" height="6" fill="#26a69a"/>
<rect x="720" y="355" width="1" height="11" fill="#26a69a"/>
<rect x="719" y="362" width="3" height="2" fill="#26a69a"/>
<rect x="725" y="357" width="1" height="27" fill="#ef5350"/>
<rect x="724" y="362" width="3" height="17" fill="#ef5350"/>
<rect x="730" y="372" width="1" height="34" fill="#ef5350"/>
<rect x="729" y="378" width="3" height="21" fill="#ef5350"/>
<rect x="735" y="397" width="1" height="16" fill="#ef5350"/>
<rect x="734" y="397" width="3" height="13" fill="#ef5350"/>
<rect x="740" y="397" width="1" height="19" fill="#ef5350"/>
<rect x="739" y="409" width="3" height="3" fill="#ef5350"/>
<rect x="744" y="402" width="1" height="11" fill="#26a69a"/>
<rect x="743" y="405" width="3" height="7" fill="#26a69a"/>
<rect x="749" y="399" width="1" height="12" fill="#26a69a"/>
<rect x="748" y="402" width="3" height="4" fill="#26a69a"/>
<rect x="754" y="401" width="1" height="40" fill="#ef5350"/>
<rect x="753" y="402" width="3" height="35" fill="#ef5350"/>
<rect x="759" y="432" width="1" height="39" fill="#ef5350"/>
<rect x="758" y="436" width="3" height="27" fill="#ef5350"/>
<rect x="764" y="447" width="1" height="21" fill="#26a69a"/>
<rect x="763" y="456" width="3" height="7" fill="#26a69a"/>
<rect x="769" y="448" width="1" height="16" fill="#ef5350"/>
<rect x="768" y="456" width="3" height="4" fill="#ef5350"/>
<rect x="774" y="453" width="1" height="43" fill="#ef5350"/>
<rect x="773" y="459" width="3" height="26" fill="#ef5350"/>
<rect x="779" y="471" width="1" height="31" fill="#26a69a"/>
<rect x="778" y="472" width="3" height="13" fill="#26a69a"/>
<rect x="783" y="461" width="1" height="23" fill="#ef5350"/>
<rect x="782" y="472" width="3" height="6" fill="#ef5350"/>
<rect x="788" y="451" width="1" height="47" fill="#26a69a"/>
<rect x="787" y="458" width="3" height="20" fill="#26a69a"/>
<rect x="793" y="454" width="1" height="30" fill="#ef5350"/>
<rect x="792" y="458" width="3" height="23" fill="#ef5350"/>
<rect x="798" y="476" width="1" height="35" fill="#ef5350"/>
<rect x="797" y="480" width="3" height="31" fill="#ef5350"/>
<rect x="803" y="502" width="1" height="56" fill="#ef5350"/>
<rect x="802" y="510" width="3" height="27" fill="#ef5350"/>
<rect x="808" y="524" width="1" height="37" fill="#ef5350"/>
<rect x="807" y="536" width="3" height="21" fill="#ef5350"/>
<rect x="813" y="556" width="1" height="24" fill="#ef5350"/>
<rect x="812" y="556" width="3" height="11" fill="#ef5350"/>
<rect x="817" y="545" width="1" height="33" fill="#26a69a"/>
<rect x="816" y="551" width="3" height="16" fill="#26a69a"/>
<rect x="822" y="528" width="1" height="30" fill="#26a69a"/>
<rect x="821" y="544" width="3" height="8" fill="#26a69a"/>
<rect x="827" y="521" width="1" height="43" fill="#26a69a"/>
<rect x="826" y="540" width="3" height="5" fill="#26a69a"/>
<rect x="832" y="532" width="1" height="50" fill="#26a69a"/>
<rect x="831" y="535" width="3" height="6" fill="#26a69a"/>
<rect x="837" y="485" width="1" height="62" fill="#26a69a"/>
<rect x="836" y="503" width="3" height="33" fill="#26a69a"/>
<rect x="842" y="502" width="1" height="37" fill="#ef5350"/>
<rect x="841" y="503" width="3" height="31" fill="#ef5350"/>
<rect x="847" y="498" width="1" height="46" fill="#26a69a"/>
<rect x="846" y="503" width="3" height="31" fill="#26a69a"/>
<rect x="851" y="501" width="1" height="32" fill="#ef5350"/>
<rect x="850" y="504" width="3" height="24" fill="#ef5350"/>
<rect x="856" y="518" width="1" height="32" fill="#26a69a"/>
<rect x="855" y="525" width="3" height="3" fill="#26a69a"/>
<rect x="861" y="514" width="1" height="26" fill="#ef5350"/>
<rect x="860" y="525" width="3" height="13" fill="#ef5350"/>
<rect x="866" y="537" width="1" height="22" fill="#ef5350"/>
<rect x="865" y="537" width="3" height="19" fill="#ef5350"/>
<rect x="871" y="531" width="1" height="36" fill="#26a69a"/>
<rect x="870" y="536" width="3" height="20" fill="#26a69a"/>
<rect x="876" y="519" width="1" height="21" fill="#26a69a"/>
<rect x="875" y="526" width="3" height="11" fill="#26a69a"/>
<rect x="881" y="474" width="1" height="73" fill="#26a69a"/>
<rect x="880" y="496" width="3" height="31" fill="#26a69a"/>
<rect x="886" y="445" width="1" height="57" fill="#26a69a"/>
<rect x="885" y="447" width="3" height="50" fill="#26a69a"/>
<rect x="890" y="427" width="1" height="35" fill="#ef5350"/>
<rect x="889" y="447" width="3" height="15" fill="#ef5350"/>
<rect x="895" y="455" width="1" height="27" fill="#ef5350"/>
<rect x="894" y="461" width="3" height="19" fill="#ef5350"/>
<rect x="900" y="474" width="1" height="33" fill="#ef5350"/>
<rect x="899" y="479" width="3" height="21" fill="#ef5350"/>
<rect x="905" y="480" width="1" height="38" fill="#26a69a"/>
<rect x="904" y="499" width="3" height="1" fill="#26a69a"/>
<rect x="910" y="474" width="1" height="38" fill="#ef5350"/>
<rect x="909" y="499" width="3" height="8" fill="#ef5350"/>
<rect x="915" y="495" width="1" height="30" fill="#ef5350"/>
<rect x="914" y="506" width="3" height="12" fill="#ef5350"/>
<rect x="920" y="499" width="1" height="31" fill="#ef5350"/>
<rect x="919" y="517" width="3" height="3" fill="#ef5350"/>
<rect x="924" y="490" width="1" height="30" fill="#26a69a"/>
<rect x="923" y="495" width="3" height="25" fill="#26a69a"/>
<rect x="929" y="487" width="1" height="17" fill="#ef5350"/>
<rect x="928" y="495" width="3" height="1" fill="#ef5350"/>
<rect x="934" y="488" width="1" height="18" fill="#ef5350"/>
<rect x="933" y="495" width="3" height="6" fill="#ef5350"/>
<rect x="939" y="487" width="1" height="17" fill="#ef5350"/>
<rect x="938" y="500" width="3" height="3" fill="#ef5350"/>
<rect x="944" y="493" width="1" height="17" fill="#ef5350"/>
<rect x="943" y="502" width="3" height="7" fill="#ef5350"/>
<rect x="949" y="499" width="1" height="23" fill="#ef5350"/>
<rect x="948" y="508" width="3" height="11" fill="#ef5350"/>
<rect x="954" y="513" width="1" height="34" fill="#ef5350"/>
<rect x="953" y="518" width="3" height="25" fill="#ef5350"/>
<rect x="958" y="509" width="1" height="43" fill="#26a69a"/>
<rect x="957" y="519" width="3" height="24" fill="#26a69a"/>
<rect x="963" y="512" width="1" height="14" fill="#ef5350"/>
<rect x="962" y="519" width="3" height="3" fill="#ef5350"/>
<rect x="968" y="509" width="1" height="39" fill="#ef5350"/>
<rect x="967" y="522" width="3" height="26" fill="#ef5350"/>
<rect x="973" y="488" width="1" height="78" fill="#26a69a"/>
<rect x="972" y="489" width="3" height="59" fill="#26a69a"/>
<rect x="978" y="483" width="1" height="39" fill="#ef5350"/>
<rect x="977" y="489" width="3" height="27" fill="#ef5350"/>
<rect x="983" y="510" width="1" height="27" fill="#ef5350"/>
<rect x="982" y="516" width="3" height="16" fill="#ef5350"/>
<rect x="988" y="474" width="1" height="65" fill="#26a69a"/>
<rect x="987" y="482" width="3" height="50" fill="#26a69a"/>
<rect x="993" y="462" width="1" height="33" fill="#26a69a"/>
<rect x="992" y="466" width="3" height="17" fill="#26a69a"/>
<rect x="997" y="455" width="1" height="34" fill="#ef5350"/>
<rect x="996" y="466" width="3" height="5" fill="#ef5350"/>
<rect x="1002" y="438" width="1" height="35" fill="#26a69a"/>
<rect x="1001" y="456" width="3" height="15" fill="#26a69a"/>
<rect x="1007" y="450" width="1" height="43" fill="#ef5350"/>
<rect x="1006" y="456" width="3" height="29" fill="#ef5350"/>
<rect x="1012" y="476" width="1" height="17" fill="#26a69a"/>
<rect x="1011" y="484" width="3" height="1" fill="#26a69a"/>
<rect x="1017" y="415" width="1" height="71" fill="#26a69a"/>
<rect x="1016" y="423" width="3" height="62" fill="#26a69a"/>
<rect x="1022" y="417" width="1" height="33" fill="#ef5350"/>
<rect x="1021" y="423" width="3" height="16" fill="#ef5350"/>
<rect x="1027" y="438" width="1" height="21" fill="#ef5350"/>
<rect x="1026" y="439" width="3" height="14" fill="#ef5350"/>
<rect x="1031" y="432" width="1" height="31" fill="#26a69a"/>
<rect x="1030" y="439" width="3" height="14" fill="#26a69a"/>
<rect x="1036" y="430" width="1" height="25" fill="#ef5350"/>
<rect x="1035" y="439" width="3" height="2" fill="#ef5350"/>
<rect x="1041" y="403" width="1" height="44" fill="#26a69a"/>
<rect x="1040" y="416" width="3" height="25" fill="#26a69a"/>
<rect x="1046" y="390" width="1" height="27" fill="#26a69a"/>
<rect x="1045" y="411" width="3" height="6" fill="#26a69a"/>
<rect x="1051" y="380" width="1" height="34" fill="#26a69a"/>
<rect x="1050" y="399" width="3" height="13" fill="#26a69a"/>
<rect x="1056" y="388" width="1" height="32" fill="#ef5350"/>
<rect x="1055" y="399" width="3" height="21" fill="#ef5350"/>
<rect x="1061" y="415" width="1" height="18" fill="#ef5350"/>
<rect x="1060" y="419" width="3" height="3" fill="#ef5350"/>
<rect x="1066" y="417" width="1" height="33" fill="#ef5350"/>
<rect x="1065" y="422" width="3" height="27" fill="#ef5350"/>
<rect x="1070" y="438" width="1" height="24" fill="#ef5350"/>
<rect x="1069" y="448" width="3" height="13" fill="#ef5350"/>
<rect x="1075" y="426" width="1" height="37" fill="#26a69a"/>
<rect x="1074" y="436" width="3" height="25" fill="#26a69a"/>
<rect x="1080" y="415" width="1" height="35" fill="#ef5350"/>
<rect x="1079" y="436" width="3" height="12" fill="#ef5350"/>
<rect x="1085" y="438" width="1" height="21" fill="#ef5350"/>
<rect x="1084" y="447" width="3" height="6" fill="#ef5350"/>
<rect x="1090" y="442" width="1" height="19" fill="#ef5350"/>
<rect x="1089" y="452" width="3" height="5" fill="#ef5350"/>
<rect x="1095" y="430" width="1" height="29" fill="#26a69a"/>
<rect x="1094" y="441" width="3" height="16" fill="#26a69a"/>
<rect x="1100" y="418" width="1" height="25" fill="#26a69a"/>
<rect x="1099" y="428" width="3" height="14" fill="#26a69a"/>
<rect x="1104" y="406" width="1" height="26" fill="#26a69a"/>
<rect x="1103" y="414" width="3" height="15" fill="#26a69a"/>
<rect x="1109" y="401" width="1" height="26" fill="#26a69a"/>
<rect x="1108" y="410" width="3" height="5" fill="#26a69a"/>
<rect x="1114" y="390" width="1" height="34" fill="#26a69a"/>
<rect x="1113" y="404" width="3" height="7" fill="#26a69a"/>
<rect x="1119" y="388" width="1" height="22" fill="#26a69a"/>
<rect x="1118" y="395" width="3" height="10" fill="#26a69a"/>
<rect x="1124" y="373" width="1" height="29" fill="#26a69a"/>
<rect x="1123" y="384" width="3" height="12" fill="#26a69a"/>
<rect x="1129" y="378" width="1" height="23" fill="#ef5350"/>
<rect x="1128" y="383" width="3" height="10" fill="#ef5350"/>
<rect x="1134" y="357" width="1" height="39" fill="#26a69a"/>
<rect x="1133" y="363" width="3" height="30" fill="#26a69a"/>
<rect x="1138" y="347" width="1" height="24" fill="#ef5350"/>
<rect x="1137" y="363" width="3" height="4" fill="#ef5350"/>
<rect x="1143" y="350" width="1" height="26" fill="#26a69a"/>
<rect x="1142" y="350" width="3" height="17" fill="#26a69a"/>
<rect x="1148" y="323" width="1" height="31" fill="#26a69a"/>
<rect x="1147" y="339" width="3" height="12" fill="#26a69a"/>
<rect x="1153" y="331" width="1" height="26" fill="#ef5350"/>
<rect x="1152" y="339" width="3" height="8" fill="#ef5350"/>
<rect x="1158" y="332" width="1" height="21" fill="#26a69a"/>
<rect x="1157" y="335" width="3" height="12" fill="#26a69a"/>
<rect x="1163" y="328" width="1" height="13" fill="#ef5350"/>
<rect x="1162" y="335" width="3" height="6" fill="#ef5350"/>
<rect x="1168" y="336" width="1" height="35" fill="#ef5350"/>
<rect x="1167" y="340" width="3" height="30" fill="#ef5350"/>
<rect x="1173" y="354" width="1" height="17" fill="#26a69a"/>
<rect x="1172" y="362" width="3" height="8" fill="#26a69a"/>
<rect x="1177" y="328" width="1" height="37" fill="#26a69a"/>
<rect x="1176" y="334" width="3" height="29" fill="#26a69a"/>
<rect x="1182" y="330" width="1" height="26" fill="#ef5350"/>
<rect x="1181" y="334" width="3" height="13" fill="#ef5350"/>
<rect x="1187" y="340" width="1" height="15" fill="#ef5350"/>
<rect x="1186" y="346" width="3" height="3" fill="#ef5350"/>
<rect x="1192" y="334" width="1" height="25" fill="#26a69a"/>
<rect x="1191" y="336" width="3" height="13" fill="#26a69a"/>
<rect x="1197" y="330" width="1" height="38" fill="#ef5350"/>
<rect x="1196" y="336" width="3" height="22" fill="#ef5350"/>
<rect x="1202" y="353" width="1" height="21" fill="#26a69a"/>
<rect x="1201" y="357" width="3" height="2" fill="#26a69a"/>
<rect x="1207" y="346" width="1" height="34" fill="#ef5350"/>
<rect x="1206" y="357" width="3" height="21" fill="#ef5350"/>
<rect x="1211" y="363" width="1" height="20" fill="#26a69a"/>
<rect x="1210" y="364" width="3" height="14" fill="#26a69a"/>
<rect x="1216" y="355" width="1" height="18" fill="#26a69a"/>
<rect x="1215" y="358" width="3" height="8" fill="#26a69a"/>
<rect x="1221" y="348" width="1" height="15" fill="#ef5350"/>
<rect x="1220" y="358" width="3" height="5" fill="#ef5350"/>
<rect x="1226" y="360" width="1" height="33" fill="#ef5350"/>
<rect x="1225" y="361" width="3" height="26" fill="#ef5350"/>
<rect x="1231" y="380" width="1" height="19" fill="#ef5350"/>
<rect x="1230" y="386" width="3" height="8" fill="#ef5350"/>
<rect x="1236" y="380" width="1" height="14" fill="#26a69a"/>
<rect x="1235" y="390" width="3" height="4" fill="#26a69a"/>
<rect x="1241" y="383" width="1" height="30" fill="#ef5350"/>
<rect x="1240" y="390" width="3" height="14" fill="#ef5350"/>
<rect x="1246" y="387" width="1" height="17" fill="#26a69a"/>
<rect x="1245" y="388" width="3" height="16" fill="#26a69a"/>
<rect x="1250" y="372" width="1" height="19" fill="#26a69a"/>
<rect x="1249" y="379" width="3" height="10" fill="#26a69a"/>
<rect x="1255" y="369" width="1" height="44" fill="#ef5350"/>
<rect x="1254" y="379" width="3" height="34" fill="#ef5350"/>
<rect x="1260" y="410" width="1" height="25" fill="#ef5350"/>
<rect x="1259" y="412" width="3" height="18" fill="#ef5350"/>
<rect x="1265" y="418" width="1" height="24" fill="#ef5350"/>
<rect x="1264" y="429" width="3" height="10" fill="#ef5350"/>
<rect x="1270" y="427" width="1" height="16" fill="#26a69a"/>
<rect x="1269" y="436" width="3" height="3" fill="#26a69a"/>
<rect x="1275" y="432" width="1" height="19" fill="#ef5350"/>
<rect x="1274" y="436" width="3" height="3" fill="#ef5350"/>
<rect x="1280" y="432" width="1" height="22" fill="#ef5350"/>
<rect x="1279" y="438" width="3" height="7" fill="#ef5350"/>
<rect x="1284" y="441" width="1" height="23" fill="#ef5350"/>
<rect x="1283" y="444" width="3" height="6" fill="#ef5350"/>
<rect x="1289" y="448" width="1" height="24" fill="#ef5350"/>
<rect x="1288" y="449" width="3" height="3" fill="#ef5350"/>
<rect x="1294" y="440" width="1" height="26" fill="#ef5350"/>
<rect x="1293" y="451" width="3" height="8" fill="#ef5350"/>
<rect x="1299" y="456" width="1" height="25" fill="#ef5350"/>
<rect x="1298" y="458" width="3" height="17" fill="#ef5350"/>
<rect x="1304" y="470" width="1" height="26" fill="#ef5350"/>
<rect x="1303" y="474" width="3" height="17" fill="#ef5350"/>
<rect x="1309" y="486" width="1" height="14" fill="#ef5350"/>
<rect x="1308" y="490" width="3" height="5" fill="#ef5350"/>
<rect x="1314" y="484" width="1" height="21" fill="#26a69a"/>
<rect x="1313" y="487" width="3" height="8" fill="#26a69a"/>
<rect x="1318" y="476" width="1" height="20" fill="#ef5350"/>
<rect x="1317" y="487" width="3" height="2" fill="#ef5350"/>
<rect x="1323" y="459" width="1" height="38" fill="#26a69a"/>
<rect x="1322" y="462" width="3" height="27" fill="#26a69a"/>
<rect x="1328" y="437" width="1" height="29" fill="#ef5350"/>
<rect x="1327" y="462" width="3" height="3" fill="#ef5350"/>
<rect x="1333" y="461" width="1" height="22" fill="#ef5350"/>
<rect x="1332" y="464" width="3" height="9" fill="#ef5350"/>
<rect x="1338" y="465" width="1" height="27" fill="#ef5350"/>
<rect x="1337" y="472" width="3" height="13" fill="#ef5350"/>
<rect x="1343" y="471" width="1" height="17" fill="#26a69a"/>
<rect x="1342" y="483" width="3" height="2" fill="#26a69a"/>
<rect x="1348" y="466" width="1" height="19" fill="#26a69a"/>
<rect x="1347" y="470" width="3" height="14" fill="#26a69a"/>
<rect x="1353" y="459" width="1" height="20" fill="#ef5350"/>
<rect x="1352" y="470" width="3" height="7" fill="#ef5350"/>
<rect x="1357" y="467" width="1" height="21" fill="#ef5350"/>
<rect x="1356" y="476" width="3" height="11" fill="#ef5350"/>
<rect x="1362" y="475" width="1" height="12" fill="#26a69a"/>
<rect x="1361" y="482" width="3" height="5" fill="#26a69a"/>
<rect x="1367" y="476" width="1" height="15" fill="#26a69a"/>
<rect x="1366" y="477" width="3" height="6" fill="#26a69a"/>
<rect x="1372" y="468" width="1" height="11" fill="#26a69a"/>
<rect x="1371" y="475" width="3" height="3" fill="#26a69a"/>
<rect x="1377" y="466" width="1" height="12" fill="#26a69a"/>
<rect x="1376" y="472" width="3" height="4" fill="#26a69a"/>
<rect x="1382" y="456" width="1" height="19" fill="#26a69a"/>
<rect x="1381" y="468" width="3" height="5" fill="#26a69a"/>
<rect x="1387" y="464" width="1" height="14" fill="#ef5350"/>
<rect x="1386" y="468" width="3" height="5" fill="#ef5350"/>
<rect x="1391" y="464" width="1" height="20" fill="#ef5350"/>
<rect x="1390" y="472" width="3" height="5" fill="#ef5350"/>
<rect x="1396" y="472" width="1" height="9" fill="#26a69a"/>
<rect x="1395" y="475" width="3" height="2" fill="#26a69a"/>
<rect x="1401" y="473" width="1" height="13" fill="#ef5350"/>
<rect x="1400" y="475" width="3" height="10" fill="#ef5350"/>
<rect x="1406" y="465" width="1" height="20" fill="#26a69a"/>
<rect x="1405" y="466" width="3" height="19" fill="#26a69a"/>
<rect x="1411" y="463" width="1" height="8" fill="#ef5350"/>
<rect x="1410" y="466" width="3" height="2" fill="#ef5350"/>
<rect x="1416" y="460" width="1" height="20" fill="#ef5350"/>
<rect x="1415" y="467" width="3" height="13" fill="#ef5350"/>
<rect x="1421" y="472" width="1" height="10" fill="#26a69a"/>
<rect x="1420" y="477" width="3" height="3" fill="#26a69a"/>
<rect x="1425" y="452" width="1" height="26" fill="#26a69a"/>
<rect x="1424" y="452" width="3" height="26" fill="#26a69a"/>
<rect x="1430" y="439" width="1" height="23" fill="#ef5350"/>
<rect x="1429" y="453" width="3" height="2" fill="#ef5350"/>
<rect x="1435" y="436" width="1" height="20" fill="#26a69a"/>
<rect x="1434" y="445" width="3" height="10" fill="#26a69a"/>
<rect x="1440" y="414" width="1" height="33" fill="#26a69a"/>
<rect x="1439" y="417" width="3" height="29" fill="#26a69a"/>
<rect x="1445" y="413" width="1" height="28" fill="#ef5350"/>
<rect x="1444" y="417" width="3" height="15" fill="#ef5350"/>
<rect x="1450" y="423" width="1" height="11" fill="#26a69a"/>
<rect x="1449" y="429" width="3" height="3" fill="#26a69a"/>
<rect x="1455" y="429" width="1" height="32" fill="#ef5350"/>
<rect x="1454" y="429" width="3" height="31" fill="#ef5350"/>
<rect x="1460" y="457" width="1" height="14" fill="#ef5350"/>
<rect x="1459" y="459" width="3" height="2" fill="#ef5350"/>
<rect x="1464" y="427" width="1" height="37" fill="#26a69a"/>
<rect x="1463" y="432" width="3" height="29" fill="#26a69a"/>
<rect x="1469" y="422" width="1" height="19" fill="#ef5350"/>
<rect x="1468" y="432" width="3" height="6" fill="#ef5350"/>
<rect x="1474" y="427" width="1" height="19" fill="#26a69a"/>
<rect x="1473" y="435" width="3" height="3" fill="#26a69a"/>
<rect x="1479" y="422" width="1" height="17" fill="#26a69a"/>
<rect x="1478" y="429" width="3" height="7" fill="#26a69a"/>
<rect x="1484" y="418" width="1" height="17" fill="#ef5350"/>
<rect x="1483" y="429" width="3" height="6" fill="#ef5350"/>
<rect x="1489" y="420" width="1" height="18" fill="#26a69a"/>
<rect x="1488" y="432" width="3" height="3" fill="#26a69a"/>
<rect x="1494" y="416" width="1" height="17" fill="#26a69a"/>
<rect x="1493" y="424" width="3" height="9" fill="#26a69a"/>
<rect x="1498" y="403" width="1" height="26" fill="#26a69a"/>
<rect x="1497" y="412" width="3" height="13" fill="#26a69a"/>
<rect x="1503" y="407" width="1" height="10" fill="#26a69a"/>
<rect x="1502" y="411" width="3" height="2" fill="#26a69a"/>
<rect x="1508" y="411" width="1" height="11" fill="#ef5350"/>
<rect x="1507" y="411" width="3" height="6" fill="#ef5350"/>
<rect x="1513" y="406" width="1" height="12" fill="#26a69a"/>
<rect x="1512" y="409" width="3" height="8" fill="#26a69a"/>
<rect x="1518" y="389" width="1" height="27" fill="#26a69a"/>
<rect x="1517" y="393" width="3" height="17" fill="#26a69a"/>
<rect x="1523" y="378" width="1" height="18" fill="#26a69a"/>
<rect x="1522" y="382" width="3" height="12" fill="#26a69a"/>
<rect x="1528" y="382" width="1" height="13" fill="#ef5350"/>
<rect x="1527" y="382" width="3" height="9" fill="#ef5350"/>
<rect x="1533" y="367" width="1" height="30" fill="#26a69a"/>
<rect x="1532" y="388" width="3" height="3" fill="#26a69a"/>
<rect x="1537" y="385" width="1" height="25" fill="#ef5350"/>
<rect x="1536" y="388" width="3" height="18" fill="#ef5350"/>
<rect x="1542" y="403" width="1" height="16" fill="#ef5350"/>
<rect x="1541" y="405" width="3" height="6" fill="#ef5350"/>
<rect x="1547" y="385" width="1" height="36" fill="#26a69a"/>
<rect x="1546" y="389" width="3" height="22" fill="#26a69a"/>
<rect x="1552" y="377" width="1" height="21" fill="#26a69a"/>
<rect x="1551" y="383" width="3" height="7" fill="#26a69a"/>
<rect x="1557" y="380" width="1" height="18" fill="#ef5350"/>
<rect x="1556" y="383" width="3" height="14" fill="#ef5350"/>
<rect x="1562" y="385" width="1" height="16" fill="#26a69a"/>
<rect x="1561" y="393" width="3" height="4" fill="#26a69a"/>
<rect x="1567" y="384" width="1" height="10" fill="#26a69a"/>
<rect x="1566" y="388" width="3" height="6" fill="#26a69a"/>
<rect x="1571" y="385" width="1" height="12" fill="#ef5350"/>
<rect x="1570" y="388" width="3" height="8" fill="#ef5350"/>
<rect x="1576" y="392" width="1" height="9" fill="#ef5350"/>
<rect x="1575" y="395" width="3" height="3" fill="#ef5350"/>
<rect x="1581" y="384" width="1" height="14" fill="#26a69a"/>
<rect x="1580" y="392" width="3" height="6" fill="#26a69a"/>
<rect x="1586" y="390" width="1" height="8" fill="#ef5350"/>
<rect x="1585" y="392" width="3" height="6" fill="#ef5350"/>
<rect x="1591" y="395" width="1" height="16" fill="#ef5350"/>
<rect x="1590" y="397" width="3" height="11" fill="#ef5350"/>
<rect x="1596" y="405" width="1" height="5" fill="#ef5350"/>
<rect x="1595" y="407" width="3" height="2" fill="#ef5350"/>
<rect x="1601" y="407" width="1" height="12" fill="#ef5350"/>
<rect x="1600" y="408" width="3" height="7" fill="#ef5350"/>
<rect x="1605" y="411" width="1" height="13" fill="#ef5350"/>
<rect x="1604" y="414" width="3" height="4" fill="#ef5350"/>
<rect x="1610" y="408" width="1" height="14" fill="#26a69a"/>
<rect x="1609" y="408" width="3" height="10" fill="#26a69a"/>
<rect x="1615" y="406" width="1" height="14" fill="#ef5350"/>
<rect x="1614" y="408" width="3" height="10" fill="#ef5350"/>
<rect x="1620" y="417" width="1" height="21" fill="#ef5350"/>
<rect x="1619" y="417" width="3" height="15" fill="#ef5350"/>
<rect x="1625" y="431" width="1" height="15" fill="#ef5350"/>
<rect x="1624" y="431" width="3" height="10" fill="#ef5350"/>
<rect x="1630" y="433" width="1" height="9" fill="#ef5350"/>
<rect x="1629" y="440" width="3" height="2" fill="#ef5350"/>
<rect x="1635" y="431" width="1" height="18" fill="#26a69a"/>
<rect x="1634" y="440" width="3" height="2" fill="#26a69a"/>
<rect x="1640" y="433" width="1" height="9" fill="#26a69a"/>
<rect x="1639" y="438" width="3" height="3" fill="#26a69a"/>
<rect x="1644" y="436" width="1" height="34" fill="#ef5350"/>
<rect x="1643" y="438" width="3" height="30" fill="#ef5350"/>
<rect x="1649" y="458" width="1" height="11" fill="#26a69a"/>
<rect x="1648" y="464" width="3" height="4" fill="#26a69a"/>
<rect x="1654" y="456" width="1" height="13" fill="#ef5350"/>
<rect x="1653" y="464" width="3" height="3" fill="#ef5350"/>
<rect x="1659" y="457" width="1" height="14" fill="#26a69a"/>
<rect x="1658" y="459" width="3" height="8" fill="#26a69a"/>
<rect x="1664" y="449" width="1" height="13" fill="#26a69a"/>
<rect x="1663" y="455" width="3" height="5" fill="#26a69a"/>
<rect x="1669" y="451" width="1" height="5" fill="#26a69a"/>
<rect x="1668" y="453" width="3" height="3" fill="#26a69a"/>
<line x1="12" y1="453.5" x2="1721" y2="453.5" stroke="#26a69a" stroke-width="1" stroke-dasharray="1 2"/>
<rect x="1721" y="32" width="1" height="634" fill="#2a2e39"/>
<rect x="11" y="631" width="1795" height="1" fill="#2a2e39"/>
<g style="will-change:transform" filter="url(#gs)" shape-rendering="auto" text-rendering="geometricPrecision">
<text x="1733.5" y="107.3" fill="#b2b5be" font-size="14" text-anchor="start" font-weight="normal" textLength="49.3" lengthAdjust="spacingAndGlyphs" stroke="#b2b5be" stroke-width="0.3">57.5000</text>
<text x="1733.5" y="145.3" fill="#b2b5be" font-size="14" text-anchor="start" font-weight="normal" textLength="49.3" lengthAdjust="spacingAndGlyphs" stroke="#b2b5be" stroke-width="0.3">55.0000</text>
<text x="1733.5" y="183.3" fill="#b2b5be" font-size="14" text-anchor="start" font-weight="normal" textLength="49.3" lengthAdjust="spacingAndGlyphs" stroke="#b2b5be" stroke-width="0.3">52.5000</text>
<text x="1733.5" y="221.3" fill="#b2b5be" font-size="14" text-anchor="start" font-weight="normal" textLength="49.3" lengthAdjust="spacingAndGlyphs" stroke="#b2b5be" stroke-width="0.3">50.0000</text>
<text x="1733.5" y="258.3" fill="#b2b5be" font-size="14" text-anchor="start" font-weight="normal" textLength="49.3" lengthAdjust="spacingAndGlyphs" stroke="#b2b5be" stroke-width="0.3">47.5000</text>
<text x="1733.5" y="296.3" fill="#b2b5be" font-size="14" text-anchor="start" font-weight="normal" textLength="49.3" lengthAdjust="spacingAndGlyphs" stroke="#b2b5be" stroke-width="0.3">45.0000</text>
<text x="1733.5" y="334.3" fill="#b2b5be" font-size="14" text-anchor="start" font-weight="normal" textLength="49.3" lengthAdjust="spacingAndGlyphs" stroke="#b2b5be" stroke-width="0.3">42.5000</text>
<text x="1733.5" y="372.3" fill="#b2b5be" font-size="14" text-anchor="start" font-weight="normal" textLength="49.3" lengthAdjust="spacingAndGlyphs" stroke="#b2b5be" stroke-width="0.3">40.0000</text>
<text x="1733.5" y="410.3" fill="#b2b5be" font-size="14" text-anchor="start" font-weight="normal" textLength="49.3" lengthAdjust="spacingAndGlyphs" stroke="#b2b5be" stroke-width="0.3">37.5000</text>
<text x="1733.5" y="523.3" fill="#b2b5be" font-size="14" text-anchor="start" font-weight="normal" textLength="49.3" lengthAdjust="spacingAndGlyphs" stroke="#b2b5be" stroke-width="0.3">30.0000</text>
<text x="1733.5" y="561.3" fill="#b2b5be" font-size="14" text-anchor="start" font-weight="normal" textLength="49.3" lengthAdjust="spacingAndGlyphs" stroke="#b2b5be" stroke-width="0.3">27.5000</text>
<text x="1733.5" y="599.3" fill="#b2b5be" font-size="14" text-anchor="start" font-weight="normal" textLength="49.3" lengthAdjust="spacingAndGlyphs" stroke="#b2b5be" stroke-width="0.3">25.0000</text>
</g>
<path d="M1721 59h69a2 2 0 0 1 2 2v17a2 2 0 0 1 -2 2h-69z" fill="#2962ff" shape-rendering="auto"/>
<path d="M1721 152h69a2 2 0 0 1 2 2v17a2 2 0 0 1 -2 2h-69z" fill="#2962ff" shape-rendering="auto"/>
<path d="M1721 284h69a2 2 0 0 1 2 2v17a2 2 0 0 1 -2 2h-69z" fill="#2962ff" shape-rendering="auto"/>
<path d="M1721 373h69a2 2 0 0 1 2 2v17a2 2 0 0 1 -2 2h-69z" fill="#2962ff" shape-rendering="auto"/>
<path d="M1721 422h69a2 2 0 0 1 2 2v17a2 2 0 0 1 -2 2h-69z" fill="#2962ff" shape-rendering="auto"/>
<path d="M1721 481h69a2 2 0 0 1 2 2v16a2 2 0 0 1 -2 2h-69z" fill="#2962ff" shape-rendering="auto"/>
<path d="M1721 501h69a2 2 0 0 1 2 2v16a2 2 0 0 1 -2 2h-69z" fill="#2962ff" shape-rendering="auto"/>
<path d="M1721 560h69a2 2 0 0 1 2 2v17a2 2 0 0 1 -2 2h-69z" fill="#2962ff" shape-rendering="auto"/>
<path d="M1721 443h74a2 2 0 0 1 2 2v34a2 2 0 0 1 -2 2h-74z" fill="#26a69a" shape-rendering="auto"/>
<g style="will-change:transform" filter="url(#gs)" shape-rendering="auto" text-rendering="geometricPrecision">
<text x="1733.5" y="74.7" fill="#ffffff" font-size="14" text-anchor="start" font-weight="normal" textLength="49.3" lengthAdjust="spacingAndGlyphs" stroke="#ffffff" stroke-width="0.3">59.7075</text>
<text x="1733.5" y="167.7" fill="#ffffff" font-size="14" text-anchor="start" font-weight="normal" textLength="49.3" lengthAdjust="spacingAndGlyphs" stroke="#ffffff" stroke-width="0.3">53.5525</text>
<text x="1733.5" y="299.7" fill="#ffffff" font-size="14" text-anchor="start" font-weight="normal" textLength="49.3" lengthAdjust="spacingAndGlyphs" stroke="#ffffff" stroke-width="0.3">44.8500</text>
<text x="1733.5" y="388.7" fill="#ffffff" font-size="14" text-anchor="start" font-weight="normal" textLength="49.3" lengthAdjust="spacingAndGlyphs" stroke="#ffffff" stroke-width="0.3">38.9325</text>
<text x="1733.5" y="437.7" fill="#ffffff" font-size="14" text-anchor="start" font-weight="normal" textLength="49.3" lengthAdjust="spacingAndGlyphs" stroke="#ffffff" stroke-width="0.3">34.3900</text>
<text x="1733.5" y="495.7" fill="#ffffff" font-size="14" text-anchor="start" font-weight="normal" textLength="49.3" lengthAdjust="spacingAndGlyphs" stroke="#ffffff" stroke-width="0.3">32.2450</text>
<text x="1733.5" y="515.7" fill="#ffffff" font-size="14" text-anchor="start" font-weight="normal" textLength="49.3" lengthAdjust="spacingAndGlyphs" stroke="#ffffff" stroke-width="0.3">30.9075</text>
<text x="1733.5" y="575.7" fill="#ffffff" font-size="14" text-anchor="start" font-weight="normal" textLength="49.3" lengthAdjust="spacingAndGlyphs" stroke="#ffffff" stroke-width="0.3">26.5800</text>
<text x="1733.5" y="458.5" fill="#ffffff" font-size="14" text-anchor="start" font-weight="normal" textLength="49.3" lengthAdjust="spacingAndGlyphs" stroke="#ffffff" stroke-width="0.3">34.3300</text>
<text x="1733" y="475.8" fill="#cfe9e6" font-size="14" text-anchor="start" font-weight="normal" textLength="55.5" lengthAdjust="spacingAndGlyphs" stroke="#cfe9e6" stroke-width="0.15">03:13:17</text>
</g>
<rect x="1722" y="34" width="82" height="26" fill="#181c27"/>
<rect x="1722" y="60" width="82" height="11" fill="url(#fade)"/>
<g style="will-change:transform" filter="url(#gs)" shape-rendering="auto" text-rendering="geometricPrecision">
<text x="11.9" y="23" fill="#d1d4dc" font-size="14" text-anchor="start" font-weight="normal" textLength="74.2" lengthAdjust="spacingAndGlyphs" stroke="#d1d4dc" stroke-width="0.5">anushsamal</text>
<text x="91.1" y="23" fill="#d1d4dc" font-size="14" text-anchor="start" font-weight="normal" textLength="60.3" lengthAdjust="spacingAndGlyphs" stroke="#d1d4dc" stroke-width="0.5">published</text>
<text x="156.5" y="23" fill="#d1d4dc" font-size="14" text-anchor="start" font-weight="normal" textLength="15.7" lengthAdjust="spacingAndGlyphs" stroke="#d1d4dc" stroke-width="0.5">on</text>
<text x="176.5" y="23" fill="#d1d4dc" font-size="14" text-anchor="start" font-weight="normal" textLength="112.1" lengthAdjust="spacingAndGlyphs" stroke="#d1d4dc" stroke-width="0.5">TradingView.com,</text>
<text x="294.9" y="23" fill="#d1d4dc" font-size="14" text-anchor="start" font-weight="normal" textLength="15.7" lengthAdjust="spacingAndGlyphs" stroke="#d1d4dc" stroke-width="0.5">Jul</text>
<text x="318.5" y="23" fill="#d1d4dc" font-size="14" text-anchor="start" font-weight="normal" textLength="17.7" lengthAdjust="spacingAndGlyphs" stroke="#d1d4dc" stroke-width="0.5">12,</text>
<text x="342.3" y="23" fill="#d1d4dc" font-size="14" text-anchor="start" font-weight="normal" textLength="29.9" lengthAdjust="spacingAndGlyphs" stroke="#d1d4dc" stroke-width="0.5">2022</text>
<text x="377.2" y="23" fill="#d1d4dc" font-size="14" text-anchor="start" font-weight="normal" textLength="34.2" lengthAdjust="spacingAndGlyphs" stroke="#d1d4dc" stroke-width="0.5">16:46</text>
<text x="417.7" y="23" fill="#d1d4dc" font-size="14" text-anchor="start" font-weight="normal" textLength="25.3" lengthAdjust="spacingAndGlyphs" stroke="#d1d4dc" stroke-width="0.5">UTC</text>
<text x="22.0" y="56.3" fill="#b2b5be" font-size="14" text-anchor="start" font-weight="normal" textLength="41.6" lengthAdjust="spacingAndGlyphs" stroke="#b2b5be" stroke-width="0.3">Solana</text>
<text x="69.6" y="56.3" fill="#b2b5be" font-size="14" text-anchor="start" font-weight="normal" textLength="4.1" lengthAdjust="spacingAndGlyphs" stroke="#b2b5be" stroke-width="0.3">/</text>
<text x="80.4" y="56.3" fill="#b2b5be" font-size="14" text-anchor="start" font-weight="normal" textLength="25.3" lengthAdjust="spacingAndGlyphs" stroke="#b2b5be" stroke-width="0.3">U.S.</text>
<text x="111.4" y="56.3" fill="#b2b5be" font-size="14" text-anchor="start" font-weight="normal" textLength="39.7" lengthAdjust="spacingAndGlyphs" stroke="#b2b5be" stroke-width="0.3">Dollar,</text>
<text x="156.8" y="56.3" fill="#b2b5be" font-size="14" text-anchor="start" font-weight="normal" textLength="19" lengthAdjust="spacingAndGlyphs" stroke="#b2b5be" stroke-width="0.3">4h,</text>
<text x="182.4" y="56.3" fill="#b2b5be" font-size="14" text-anchor="start" font-weight="normal" textLength="23.5" lengthAdjust="spacingAndGlyphs" stroke="#b2b5be" stroke-width="0.3">FTX</text>
<text x="214.8" y="56.3" fill="#b2b5be" font-size="14" text-anchor="start" font-weight="normal" textLength="9.3" lengthAdjust="spacingAndGlyphs" stroke="#b2b5be" stroke-width="0.3">O</text>
<text x="225.4" y="56.3" fill="#26a69a" font-size="14" text-anchor="start" font-weight="normal" textLength="49" lengthAdjust="spacingAndGlyphs" stroke="#26a69a" stroke-width="0.3">34.1925</text>
<text x="283.7" y="56.3" fill="#b2b5be" font-size="14" text-anchor="start" font-weight="normal" textLength="8.5" lengthAdjust="spacingAndGlyphs" stroke="#b2b5be" stroke-width="0.3">H</text>
<text x="293.6" y="56.3" fill="#26a69a" font-size="14" text-anchor="start" font-weight="normal" textLength="49.7" lengthAdjust="spacingAndGlyphs" stroke="#26a69a" stroke-width="0.3">34.4500</text>
<text x="353" y="56.3" fill="#b2b5be" font-size="14" text-anchor="start" font-weight="normal" textLength="6.2" lengthAdjust="spacingAndGlyphs" stroke="#b2b5be" stroke-width="0.3">L</text>
<text x="360.2" y="56.3" fill="#26a69a" font-size="14" text-anchor="start" font-weight="normal" textLength="49.7" lengthAdjust="spacingAndGlyphs" stroke="#26a69a" stroke-width="0.3">34.1600</text>
<text x="418.9" y="56.3" fill="#b2b5be" font-size="14" text-anchor="start" font-weight="normal" textLength="8.3" lengthAdjust="spacingAndGlyphs" stroke="#b2b5be" stroke-width="0.3">C</text>
<text x="428.4" y="56.3" fill="#26a69a" font-size="14" text-anchor="start" font-weight="normal" textLength="49.7" lengthAdjust="spacingAndGlyphs" stroke="#26a69a" stroke-width="0.3">34.3300</text>
<text x="487.3" y="56.3" fill="#26a69a" font-size="14" text-anchor="start" font-weight="normal" textLength="108.7" lengthAdjust="spacingAndGlyphs" stroke="#26a69a" stroke-width="0.3">+0.1775 (+0.52%)</text>
<text x="22" y="77" fill="#b2b5be" font-size="14" text-anchor="start" font-weight="normal" textLength="19" lengthAdjust="spacingAndGlyphs" stroke="#b2b5be" stroke-width="0.3">Vol</text>
<text x="50.2" y="77" fill="#26a69a" font-size="14" text-anchor="start" font-weight="normal" textLength="45.8" lengthAdjust="spacingAndGlyphs" stroke="#26a69a" stroke-width="0.3">5.102M</text>
<text x="1733.6" y="55" fill="#b2b5be" font-size="14" text-anchor="start" font-weight="normal" textLength="24.2" lengthAdjust="spacingAndGlyphs" stroke="#b2b5be" stroke-width="0.3">USD</text>
<g clip-path="url(#tclip)">
<text x="22.5" y="653" fill="#b2b5be" font-size="14" text-anchor="end" font-weight="normal" stroke="#b2b5be" stroke-width="0.3">17</text>
<text x="189.6" y="653" fill="#b2b5be" font-size="14" text-anchor="middle" font-weight="normal" stroke="#b2b5be" stroke-width="0.3">23</text>
<text x="306.6" y="653" fill="#b2b5be" font-size="14" text-anchor="middle" font-weight="normal" stroke="#b2b5be" stroke-width="0.3">27</text>
<text x="452.6" y="653" fill="#c5c8d1" font-size="14" text-anchor="middle" font-weight="bold">Jun</text>
<text x="598.6" y="653" fill="#b2b5be" font-size="14" text-anchor="middle" font-weight="normal" stroke="#b2b5be" stroke-width="0.3">6</text>
<text x="700.6" y="653" fill="#b2b5be" font-size="14" text-anchor="middle" font-weight="normal" stroke="#b2b5be" stroke-width="0.3">12:00</text>
<text x="802.6" y="653" fill="#b2b5be" font-size="14" text-anchor="middle" font-weight="normal" stroke="#b2b5be" stroke-width="0.3">13</text>
<text x="904.6" y="653" fill="#b2b5be" font-size="14" text-anchor="middle" font-weight="normal" stroke="#b2b5be" stroke-width="0.3">12:00</text>
<text x="1006.6" y="653" fill="#b2b5be" font-size="14" text-anchor="middle" font-weight="normal" stroke="#b2b5be" stroke-width="0.3">20</text>
<text x="1108.6" y="653" fill="#b2b5be" font-size="14" text-anchor="middle" font-weight="normal" stroke="#b2b5be" stroke-width="0.3">12:00</text>
<text x="1210.6" y="653" fill="#b2b5be" font-size="14" text-anchor="middle" font-weight="normal" stroke="#b2b5be" stroke-width="0.3">27</text>
<text x="1327.6" y="653" fill="#c5c8d1" font-size="14" text-anchor="middle" font-weight="bold">Jul</text>
<text x="1444.6" y="653" fill="#b2b5be" font-size="14" text-anchor="middle" font-weight="normal" stroke="#b2b5be" stroke-width="0.3">5</text>
<text x="1619.6" y="653" fill="#b2b5be" font-size="14" text-anchor="middle" font-weight="normal" stroke="#b2b5be" stroke-width="0.3">11</text>
</g>
<g fill="#d1d4dc"><path d="M12.1 679.4H21.1V691.1H16.8V683.8H12.1z"/><circle cx="25.3" cy="682.1" r="2.35"/><path d="M30.1 679.4H35.4L30.8 691.1H25.3z"/></g>
<text x="39" y="691.8" fill="#d1d4dc" font-size="15" text-anchor="start" font-weight="normal" textLength="85.3" lengthAdjust="spacingAndGlyphs" stroke="#d1d4dc" stroke-width="0.2">TradingView</text>
</g>
</svg>
</body></html>
